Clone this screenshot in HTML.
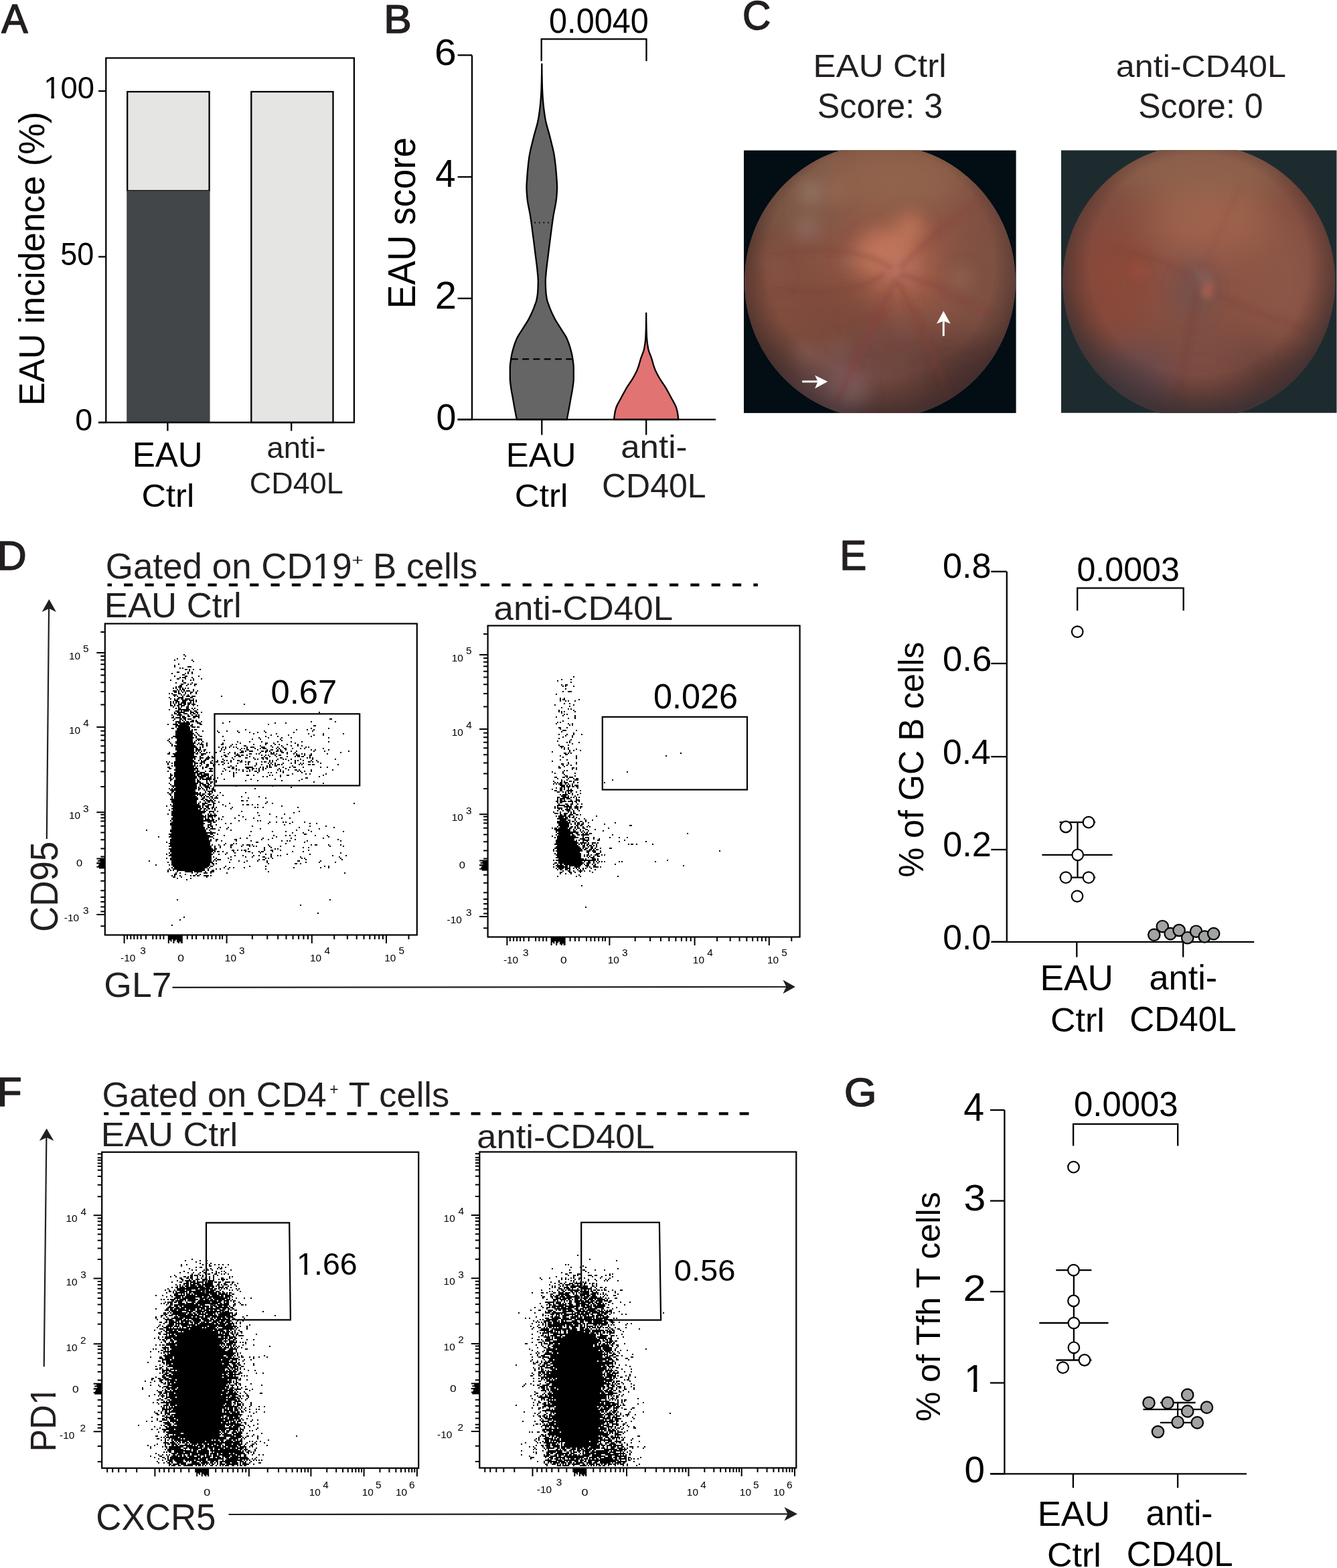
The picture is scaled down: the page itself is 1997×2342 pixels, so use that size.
<!DOCTYPE html>
<html><head><meta charset="utf-8"><style>
html,body{margin:0;padding:0;background:#fff;}
svg{display:block;}
text{font-family:'Liberation Sans', Arial, Helvetica, sans-serif;}
</style></head><body>
<svg width="1997" height="2342" viewBox="0 0 1997 2342">
<rect width="1997" height="2342" fill="#fff"/>
<text transform="translate(2.35 49.2) scale(0.9684 1)" font-size="60.95" fill="#231f20" stroke="#231f20" stroke-width="1.6" stroke-linejoin="round">A</text>
<rect x="190.2" y="137" width="122.4" height="148" fill="#e5e5e4" stroke="#000" stroke-width="2.3"/>
<rect x="189.2" y="284.9" width="124.4" height="346.1" fill="#434649" stroke="none" stroke-width="2"/>
<rect x="375.3" y="137" width="122.2" height="494" fill="#e5e5e4" stroke="#000" stroke-width="2.3"/>
<polyline points="158.3,631 158.3,86.6 528.9,86.6 528.9,631" fill="none" stroke="#000" stroke-width="2.3"/>
<line x1="147" y1="631" x2="529.9" y2="631" stroke="#000" stroke-width="2.3"/>
<line x1="147" y1="136" x2="158.3" y2="136" stroke="#000" stroke-width="2.3"/>
<line x1="147" y1="383.5" x2="158.3" y2="383.5" stroke="#000" stroke-width="2.3"/>
<line x1="147" y1="631" x2="158.3" y2="631" stroke="#000" stroke-width="2.3"/>
<line x1="250.4" y1="631" x2="250.4" y2="643.6" stroke="#000" stroke-width="2.3"/>
<line x1="435.2" y1="631" x2="435.2" y2="643.6" stroke="#000" stroke-width="2.3"/>
<g transform="translate(65.29 146.94) scale(0.9901 1)" font-size="45.8" fill="#000"><clipPath id="nf1"><path d="M-9.16 -45.8H36.64V13.74H-9.16Z M2.29 -5.04H11.19V2.75H2.29Z M15.82 -5.04H24.27V2.75H15.82Z" clip-rule="evenodd"/></clipPath><text x="0" clip-path="url(#nf1)">1</text><text x="25.47">00</text></g>
<text transform="translate(90.2 395.91) scale(0.9263 1)" font-size="48.62" fill="#000">50</text>
<text transform="translate(112.13 643.14) scale(1.0135 1)" font-size="46.08" fill="#000">0</text>
<text transform="translate(197.68 696.69) scale(1.0044 1)" font-size="50.9" fill="#000">EAU</text>
<text transform="translate(211.47 757.21) scale(1.0427 1)" font-size="48.57" fill="#000">Ctrl</text>
<text transform="translate(398.48 684.35) scale(1.0144 1)" font-size="44.63" fill="#231f20">anti-</text>
<text transform="translate(372.76 737.35)" font-size="44.95" fill="#231f20">CD40L</text>
<text transform="translate(66.02 606.02) rotate(-90) scale(0.9629 1)" font-size="54.37" fill="#000">EAU incidence (%)</text>
<text transform="translate(573.37 48.6) scale(1.0347 1)" font-size="60.07" fill="#231f20" stroke="#231f20" stroke-width="1.6" stroke-linejoin="round">B</text>
<polygon points="809.3,95.6 809.3,97.6 809.31,99.6 809.33,101.6 809.34,103.6 809.37,105.6 809.4,107.6 809.43,109.6 809.46,111.6 809.5,113.6 809.55,115.6 809.59,117.6 809.64,119.6 809.69,121.6 809.74,123.6 809.79,125.6 809.85,127.6 809.9,129.6 809.97,131.6 810.04,133.6 810.13,135.6 810.23,137.6 810.33,139.6 810.45,141.6 810.57,143.6 810.7,145.6 810.84,147.6 810.99,149.6 811.16,151.6 811.34,153.6 811.53,155.6 811.73,157.6 811.95,159.6 812.18,161.6 812.43,163.6 812.69,165.6 812.95,167.6 813.23,169.6 813.52,171.6 813.83,173.6 814.14,175.6 814.47,177.6 814.84,179.6 815.27,181.6 815.73,183.6 816.23,185.6 816.75,187.6 817.3,189.6 817.86,191.6 818.43,193.6 819,195.6 819.58,197.6 820.14,199.6 820.68,201.6 821.21,203.6 821.7,205.6 822.18,207.6 822.67,209.6 823.17,211.6 823.67,213.6 824.16,215.6 824.66,217.6 825.15,219.6 825.62,221.6 826.08,223.6 826.52,225.6 826.94,227.6 827.34,229.6 827.7,231.6 828.03,233.6 828.33,235.6 828.6,237.6 828.86,239.6 829.11,241.6 829.35,243.6 829.58,245.6 829.8,247.6 830.01,249.6 830.2,251.6 830.39,253.6 830.57,255.6 830.75,257.6 830.91,259.6 831.06,261.6 831.21,263.6 831.35,265.6 831.49,267.6 831.64,269.6 831.78,271.6 831.91,273.6 832.01,275.6 832.08,277.6 832.1,279.6 832.08,281.6 832.02,283.6 831.92,285.6 831.8,287.6 831.66,289.6 831.51,291.6 831.35,293.6 831.19,295.6 830.97,297.6 830.71,299.6 830.41,301.6 830.08,303.6 829.72,305.6 829.34,307.6 828.95,309.6 828.55,311.6 828.15,313.6 827.75,315.6 827.36,317.6 826.99,319.6 826.64,321.6 826.32,323.6 826.02,325.6 825.72,327.6 825.44,329.6 825.15,331.6 824.87,333.6 824.6,335.6 824.33,337.6 824.06,339.6 823.8,341.6 823.54,343.6 823.28,345.6 823.02,347.6 822.76,349.6 822.5,351.6 822.23,353.6 821.98,355.6 821.72,357.6 821.46,359.6 821.21,361.6 820.95,363.6 820.7,365.6 820.45,367.6 820.2,369.6 819.96,371.6 819.71,373.6 819.46,375.6 819.21,377.6 818.97,379.6 818.72,381.6 818.48,383.6 818.22,385.6 817.96,387.6 817.7,389.6 817.44,391.6 817.18,393.6 816.93,395.6 816.69,397.6 816.45,399.6 816.23,401.6 816.03,403.6 815.85,405.6 815.65,407.6 815.45,409.6 815.26,411.6 815.09,413.6 814.95,415.6 814.85,417.6 814.8,419.6 814.81,421.6 814.84,423.6 814.89,425.6 814.95,427.6 815.03,429.6 815.12,431.6 815.22,433.6 815.34,435.6 815.49,437.6 815.71,439.6 815.98,441.6 816.29,443.6 816.64,445.6 817.02,447.6 817.55,449.6 818.2,451.6 818.93,453.6 819.66,455.6 820.37,457.6 821.12,459.6 821.9,461.6 822.71,463.6 823.56,465.6 824.44,467.6 825.37,469.6 826.33,471.6 827.33,473.6 828.37,475.6 829.45,477.6 830.61,479.6 831.83,481.6 833.1,483.6 834.39,485.6 835.68,487.6 836.95,489.6 838.18,491.6 839.44,493.6 840.73,495.6 842.03,497.6 843.3,499.6 844.51,501.6 845.63,503.6 846.62,505.6 847.49,507.6 848.31,509.6 849.08,511.6 849.8,513.6 850.47,515.6 851.1,517.6 851.69,519.6 852.25,521.6 852.78,523.6 853.3,525.6 853.79,527.6 854.25,529.6 854.66,531.6 855.02,533.6 855.33,535.6 855.61,537.6 855.9,539.6 856.17,541.6 856.4,543.6 856.6,545.6 856.73,547.6 856.8,549.6 856.8,551.6 856.8,553.6 856.8,555.6 856.8,557.6 856.8,559.6 856.8,561.6 856.8,563.6 856.79,565.6 856.72,567.6 856.57,569.6 856.36,571.6 856.12,573.6 855.85,575.6 855.57,577.6 855.3,579.6 855.02,581.6 854.69,583.6 854.34,585.6 853.96,587.6 853.58,589.6 853.2,591.6 852.83,593.6 852.47,595.6 852.12,597.6 851.77,599.6 851.42,601.6 851.07,603.6 850.72,605.6 850.36,607.6 849.99,609.6 849.62,611.6 849.24,613.6 848.87,615.6 848.48,617.6 848.1,619.6 847.71,621.6 847.32,623.6 846.92,625.6 846.7,626.7 771.9,626.7 771.68,625.6 771.28,623.6 770.89,621.6 770.5,619.6 770.12,617.6 769.73,615.6 769.36,613.6 768.98,611.6 768.61,609.6 768.24,607.6 767.88,605.6 767.53,603.6 767.18,601.6 766.83,599.6 766.48,597.6 766.13,595.6 765.77,593.6 765.4,591.6 765.02,589.6 764.64,587.6 764.26,585.6 763.91,583.6 763.58,581.6 763.3,579.6 763.03,577.6 762.75,575.6 762.48,573.6 762.24,571.6 762.03,569.6 761.88,567.6 761.81,565.6 761.8,563.6 761.8,561.6 761.8,559.6 761.8,557.6 761.8,555.6 761.8,553.6 761.8,551.6 761.8,549.6 761.87,547.6 762,545.6 762.2,543.6 762.43,541.6 762.7,539.6 762.99,537.6 763.27,535.6 763.58,533.6 763.94,531.6 764.35,529.6 764.81,527.6 765.3,525.6 765.82,523.6 766.35,521.6 766.91,519.6 767.5,517.6 768.13,515.6 768.8,513.6 769.52,511.6 770.29,509.6 771.11,507.6 771.98,505.6 772.97,503.6 774.09,501.6 775.3,499.6 776.57,497.6 777.87,495.6 779.16,493.6 780.42,491.6 781.65,489.6 782.92,487.6 784.21,485.6 785.5,483.6 786.77,481.6 787.99,479.6 789.15,477.6 790.23,475.6 791.27,473.6 792.27,471.6 793.23,469.6 794.16,467.6 795.04,465.6 795.89,463.6 796.7,461.6 797.48,459.6 798.23,457.6 798.94,455.6 799.67,453.6 800.4,451.6 801.05,449.6 801.58,447.6 801.96,445.6 802.31,443.6 802.62,441.6 802.89,439.6 803.11,437.6 803.26,435.6 803.38,433.6 803.48,431.6 803.57,429.6 803.65,427.6 803.71,425.6 803.76,423.6 803.79,421.6 803.8,419.6 803.75,417.6 803.65,415.6 803.51,413.6 803.34,411.6 803.15,409.6 802.95,407.6 802.75,405.6 802.57,403.6 802.37,401.6 802.15,399.6 801.91,397.6 801.67,395.6 801.42,393.6 801.16,391.6 800.9,389.6 800.64,387.6 800.38,385.6 800.12,383.6 799.88,381.6 799.63,379.6 799.39,377.6 799.14,375.6 798.89,373.6 798.64,371.6 798.4,369.6 798.15,367.6 797.9,365.6 797.65,363.6 797.39,361.6 797.14,359.6 796.88,357.6 796.62,355.6 796.37,353.6 796.1,351.6 795.84,349.6 795.58,347.6 795.32,345.6 795.06,343.6 794.8,341.6 794.54,339.6 794.27,337.6 794,335.6 793.73,333.6 793.45,331.6 793.16,329.6 792.88,327.6 792.58,325.6 792.28,323.6 791.96,321.6 791.61,319.6 791.24,317.6 790.85,315.6 790.45,313.6 790.05,311.6 789.65,309.6 789.26,307.6 788.88,305.6 788.52,303.6 788.19,301.6 787.89,299.6 787.63,297.6 787.41,295.6 787.25,293.6 787.09,291.6 786.94,289.6 786.8,287.6 786.68,285.6 786.58,283.6 786.52,281.6 786.5,279.6 786.52,277.6 786.59,275.6 786.69,273.6 786.82,271.6 786.96,269.6 787.11,267.6 787.25,265.6 787.39,263.6 787.54,261.6 787.69,259.6 787.85,257.6 788.03,255.6 788.21,253.6 788.4,251.6 788.59,249.6 788.8,247.6 789.02,245.6 789.25,243.6 789.49,241.6 789.74,239.6 790,237.6 790.27,235.6 790.57,233.6 790.9,231.6 791.26,229.6 791.66,227.6 792.08,225.6 792.52,223.6 792.98,221.6 793.45,219.6 793.94,217.6 794.44,215.6 794.93,213.6 795.43,211.6 795.93,209.6 796.42,207.6 796.9,205.6 797.39,203.6 797.92,201.6 798.46,199.6 799.02,197.6 799.6,195.6 800.17,193.6 800.74,191.6 801.3,189.6 801.85,187.6 802.37,185.6 802.87,183.6 803.33,181.6 803.76,179.6 804.13,177.6 804.46,175.6 804.77,173.6 805.08,171.6 805.37,169.6 805.65,167.6 805.91,165.6 806.17,163.6 806.42,161.6 806.65,159.6 806.87,157.6 807.07,155.6 807.26,153.6 807.44,151.6 807.61,149.6 807.76,147.6 807.9,145.6 808.03,143.6 808.15,141.6 808.27,139.6 808.37,137.6 808.47,135.6 808.56,133.6 808.63,131.6 808.7,129.6 808.75,127.6 808.81,125.6 808.86,123.6 808.91,121.6 808.96,119.6 809.01,117.6 809.05,115.6 809.1,113.6 809.14,111.6 809.17,109.6 809.2,107.6 809.23,105.6 809.26,103.6 809.27,101.6 809.29,99.6 809.3,97.6 809.3,95.6" fill="#666565" stroke="#000" stroke-width="2.3" stroke-linejoin="round"/>
<polygon points="965.2,467.7 965.2,469.7 965.21,471.7 965.23,473.7 965.25,475.7 965.27,477.7 965.3,479.7 965.34,481.7 965.38,483.7 965.43,485.7 965.48,487.7 965.53,489.7 965.59,491.7 965.65,493.7 965.72,495.7 965.79,497.7 965.87,499.7 965.95,501.7 966.03,503.7 966.15,505.7 966.32,507.7 966.52,509.7 966.76,511.7 967.04,513.7 967.34,515.7 967.67,517.7 968.02,519.7 968.41,521.7 968.93,523.7 969.58,525.7 970.31,527.7 971.09,529.7 971.87,531.7 972.62,533.7 973.3,535.7 973.91,537.7 974.49,539.7 975.05,541.7 975.62,543.7 976.21,545.7 976.85,547.7 977.55,549.7 978.34,551.7 979.21,553.7 980.16,555.7 981.16,557.7 982.22,559.7 983.31,561.7 984.42,563.7 985.56,565.7 986.78,567.7 988.08,569.7 989.42,571.7 990.78,573.7 992.13,575.7 993.43,577.7 994.66,579.7 995.83,581.7 996.97,583.7 998.09,585.7 999.18,587.7 1000.26,589.7 1001.33,591.7 1002.38,593.7 1003.45,595.7 1004.57,597.7 1005.7,599.7 1006.82,601.7 1007.87,603.7 1008.83,605.7 1009.65,607.7 1010.32,609.7 1010.89,611.7 1011.4,613.7 1011.83,615.7 1012.18,617.7 1012.48,619.7 1012.75,621.7 1012.97,623.7 1013.14,625.7 1013.2,626.7 917.2,626.7 917.26,625.7 917.43,623.7 917.65,621.7 917.92,619.7 918.22,617.7 918.57,615.7 919,613.7 919.51,611.7 920.08,609.7 920.75,607.7 921.57,605.7 922.53,603.7 923.58,601.7 924.7,599.7 925.83,597.7 926.95,595.7 928.02,593.7 929.07,591.7 930.14,589.7 931.22,587.7 932.31,585.7 933.43,583.7 934.57,581.7 935.74,579.7 936.97,577.7 938.27,575.7 939.62,573.7 940.98,571.7 942.32,569.7 943.62,567.7 944.84,565.7 945.98,563.7 947.09,561.7 948.18,559.7 949.24,557.7 950.24,555.7 951.19,553.7 952.06,551.7 952.85,549.7 953.55,547.7 954.19,545.7 954.78,543.7 955.35,541.7 955.91,539.7 956.49,537.7 957.1,535.7 957.78,533.7 958.53,531.7 959.31,529.7 960.09,527.7 960.82,525.7 961.47,523.7 961.99,521.7 962.38,519.7 962.73,517.7 963.06,515.7 963.36,513.7 963.64,511.7 963.88,509.7 964.08,507.7 964.25,505.7 964.37,503.7 964.45,501.7 964.53,499.7 964.61,497.7 964.68,495.7 964.75,493.7 964.81,491.7 964.87,489.7 964.92,487.7 964.97,485.7 965.02,483.7 965.06,481.7 965.1,479.7 965.13,477.7 965.15,475.7 965.17,473.7 965.19,471.7 965.2,469.7 965.2,467.7" fill="#e27373" stroke="#000" stroke-width="2.3" stroke-linejoin="round"/>
<line x1="798.3" y1="332.5" x2="820" y2="332.5" stroke="#000" stroke-width="2.2" stroke-dasharray="1.7 4.9"/>
<line x1="763.8" y1="536.3" x2="854" y2="536.3" stroke="#000" stroke-width="2.3" stroke-dasharray="10 6.3"/>
<line x1="705" y1="82.4" x2="705" y2="627.7" stroke="#000" stroke-width="2.3"/>
<line x1="683.6" y1="626.7" x2="1069.1" y2="626.7" stroke="#000" stroke-width="2.3"/>
<line x1="683.6" y1="82.4" x2="705" y2="82.4" stroke="#000" stroke-width="2.3"/>
<line x1="683.6" y1="264.3" x2="705" y2="264.3" stroke="#000" stroke-width="2.3"/>
<line x1="683.6" y1="445.7" x2="705" y2="445.7" stroke="#000" stroke-width="2.3"/>
<line x1="683.6" y1="626.7" x2="705" y2="626.7" stroke="#000" stroke-width="2.3"/>
<line x1="809.3" y1="626.7" x2="809.3" y2="649.6" stroke="#000" stroke-width="2.3"/>
<line x1="965.2" y1="626.7" x2="965.2" y2="649.6" stroke="#000" stroke-width="2.3"/>
<polyline points="808.7,91.2 808.7,58.3 965.5,58.3 965.5,91.2" fill="none" stroke="#000" stroke-width="2.3"/>
<text transform="translate(820.05 48.89) scale(0.9510 1)" font-size="51.17" fill="#000">0.0040</text>
<text transform="translate(649.06 96.55) scale(1.0724 1)" font-size="54.84" fill="#000">6</text>
<text transform="translate(650.27 279.2) scale(0.9407 1)" font-size="57.89" fill="#000">4</text>
<text transform="translate(649.81 460.9) scale(1.0105 1)" font-size="57.2" fill="#000">2</text>
<text transform="translate(651.46 641.75) scale(0.9676 1)" font-size="55.41" fill="#000">0</text>
<text transform="translate(755.8 696.79) scale(1.0059 1)" font-size="50.61" fill="#000">EAU</text>
<text transform="translate(768.74 757.12) scale(1.0661 1)" font-size="48.03" fill="#000">Ctrl</text>
<text transform="translate(927.13 684.12) scale(1.0556 1)" font-size="48.44" fill="#231f20">anti-</text>
<text transform="translate(898.9 743.31) scale(1.0172 1)" font-size="49.19" fill="#231f20">CD40L</text>
<text transform="translate(619.54 461.22) rotate(-90) scale(0.9486 1)" font-size="56.49" fill="#000">EAU score</text>
<text transform="translate(1254.24 850.6) scale(0.9653 1)" font-size="62.25" fill="#231f20" stroke="#231f20" stroke-width="1.6" stroke-linejoin="round">E</text>
<line x1="1503.8" y1="853.7" x2="1503.8" y2="1407.8" stroke="#000" stroke-width="2.3"/>
<line x1="1481.7" y1="1406.8" x2="1873.2" y2="1406.8" stroke="#000" stroke-width="2.3"/>
<line x1="1480.3" y1="853.7" x2="1503.8" y2="853.7" stroke="#000" stroke-width="2.3"/>
<line x1="1480.3" y1="991" x2="1503.8" y2="991" stroke="#000" stroke-width="2.3"/>
<line x1="1480.3" y1="1130.2" x2="1503.8" y2="1130.2" stroke="#000" stroke-width="2.3"/>
<line x1="1480.3" y1="1269" x2="1503.8" y2="1269" stroke="#000" stroke-width="2.3"/>
<line x1="1480.3" y1="1406.8" x2="1503.8" y2="1406.8" stroke="#000" stroke-width="2.3"/>
<line x1="1608.3" y1="1406.8" x2="1608.3" y2="1429.6" stroke="#000" stroke-width="2.3"/>
<line x1="1767.2" y1="1406.8" x2="1767.2" y2="1429.6" stroke="#000" stroke-width="2.3"/>
<text transform="translate(1407.91 863.49) scale(1.0281 1)" font-size="50.88" fill="#000">0.8</text>
<text transform="translate(1407.99 1001.87) scale(1.0037 1)" font-size="52.58" fill="#000">0.6</text>
<text transform="translate(1407.93 1141.37) scale(0.9837 1)" font-size="52.58" fill="#000">0.4</text>
<text transform="translate(1408.31 1278.98) scale(1.0069 1)" font-size="51.87" fill="#000">0.2</text>
<text transform="translate(1408.33 1417.88) scale(0.9892 1)" font-size="52.3" fill="#000">0.0</text>
<polyline points="1609.2,912.1 1609.2,878.4 1767.7,878.4 1767.7,912.1" fill="none" stroke="#000" stroke-width="2.3"/>
<text transform="translate(1608.39 868.4) scale(1.0065 1)" font-size="49.89" fill="#000">0.0003</text>
<line x1="1609.5" y1="1228.2" x2="1609.5" y2="1310.7" stroke="#000" stroke-width="2.3"/>
<line x1="1582.5" y1="1228.2" x2="1636.2" y2="1228.2" stroke="#000" stroke-width="2.3"/>
<line x1="1582.5" y1="1310.7" x2="1636.2" y2="1310.7" stroke="#000" stroke-width="2.3"/>
<line x1="1556.4" y1="1276.8" x2="1661.6" y2="1276.8" stroke="#000" stroke-width="2.3"/>
<circle cx="1609.2" cy="943.6" r="8.3" fill="#fff" stroke="#000" stroke-width="2.2"/>
<circle cx="1609.7" cy="1276.8" r="8.3" fill="#fff" stroke="#000" stroke-width="2.2"/>
<circle cx="1592" cy="1235" r="8.3" fill="#fff" stroke="#000" stroke-width="2.2"/>
<circle cx="1626" cy="1228.2" r="8.3" fill="#fff" stroke="#000" stroke-width="2.2"/>
<circle cx="1592" cy="1310.7" r="8.3" fill="#fff" stroke="#000" stroke-width="2.2"/>
<circle cx="1626" cy="1310.7" r="8.3" fill="#fff" stroke="#000" stroke-width="2.2"/>
<circle cx="1609" cy="1338.6" r="8.3" fill="#fff" stroke="#000" stroke-width="2.2"/>
<line x1="1740" y1="1394" x2="1790" y2="1394" stroke="#000" stroke-width="2.3"/>
<circle cx="1723.8" cy="1396.3" r="8.7" fill="#a0a2a4" stroke="#000" stroke-width="2.2"/>
<circle cx="1736.3" cy="1383.7" r="8.7" fill="#a0a2a4" stroke="#000" stroke-width="2.2"/>
<circle cx="1748.2" cy="1394.6" r="8.7" fill="#a0a2a4" stroke="#000" stroke-width="2.2"/>
<circle cx="1761.1" cy="1389.5" r="8.7" fill="#a0a2a4" stroke="#000" stroke-width="2.2"/>
<circle cx="1773.7" cy="1400.7" r="8.7" fill="#a0a2a4" stroke="#000" stroke-width="2.2"/>
<circle cx="1786.6" cy="1391.2" r="8.7" fill="#a0a2a4" stroke="#000" stroke-width="2.2"/>
<circle cx="1799.2" cy="1399" r="8.7" fill="#a0a2a4" stroke="#000" stroke-width="2.2"/>
<circle cx="1812.7" cy="1394.6" r="8.7" fill="#a0a2a4" stroke="#000" stroke-width="2.2"/>
<text transform="translate(1553.61 1478.96) scale(0.9770 1)" font-size="54.48" fill="#000">EAU</text>
<text transform="translate(1569 1541.1) scale(1.0436 1)" font-size="49.8" fill="#000">Ctrl</text>
<text transform="translate(1716.48 1478.49) scale(1.0226 1)" font-size="51.16" fill="#000">anti-</text>
<text transform="translate(1687.24 1540.48) scale(0.9874 1)" font-size="51.87" fill="#000">CD40L</text>
<text transform="translate(1378.59 1310.56) rotate(-90) scale(0.9882 1)" font-size="50.88" fill="#000">% of GC B cells</text>
<text transform="translate(1260.89 1652.11) scale(1.0633 1)" font-size="58.52" fill="#231f20" stroke="#231f20" stroke-width="1.6" stroke-linejoin="round">G</text>
<line x1="1500.4" y1="1658" x2="1500.4" y2="2202.3" stroke="#000" stroke-width="2.3"/>
<line x1="1479.3" y1="2201.3" x2="1862" y2="2201.3" stroke="#000" stroke-width="2.3"/>
<line x1="1479" y1="1658" x2="1500.4" y2="1658" stroke="#000" stroke-width="2.3"/>
<line x1="1479" y1="1793.6" x2="1500.4" y2="1793.6" stroke="#000" stroke-width="2.3"/>
<line x1="1479" y1="1929.2" x2="1500.4" y2="1929.2" stroke="#000" stroke-width="2.3"/>
<line x1="1479" y1="2065.5" x2="1500.4" y2="2065.5" stroke="#000" stroke-width="2.3"/>
<line x1="1479" y1="2201.3" x2="1500.4" y2="2201.3" stroke="#000" stroke-width="2.3"/>
<line x1="1602.9" y1="2201.3" x2="1602.9" y2="2222.3" stroke="#000" stroke-width="2.3"/>
<line x1="1759.1" y1="2201.3" x2="1759.1" y2="2222.3" stroke="#000" stroke-width="2.3"/>
<text transform="translate(1439.35 1674) scale(0.9297 1)" font-size="59.64" fill="#000">4</text>
<text transform="translate(1439.49 1807.95) scale(1.0639 1)" font-size="55.41" fill="#000">3</text>
<text transform="translate(1438.62 1943) scale(1.0950 1)" font-size="56.2" fill="#000">2</text>
<g transform="translate(1439.91 2079)" font-size="56.73" fill="#000"><clipPath id="nf2"><path d="M-11.35 -56.73H45.38V17.02H-11.35Z M2.84 -6.24H13.94V3.4H2.84Z M19.53 -6.24H30.07V3.4H19.53Z" clip-rule="evenodd"/></clipPath><text x="0" clip-path="url(#nf2)">1</text></g>
<text transform="translate(1440.41 2214.35) scale(0.9928 1)" font-size="55.27" fill="#000">0</text>
<polyline points="1603.1,1711.4 1603.1,1678.9 1759.2,1678.9 1759.2,1711.4" fill="none" stroke="#000" stroke-width="2.3"/>
<text transform="translate(1603.96 1667.18) scale(0.9811 1)" font-size="51.87" fill="#000">0.0003</text>
<line x1="1603.9" y1="1897.1" x2="1603.9" y2="2031.5" stroke="#000" stroke-width="2.3"/>
<line x1="1577.3" y1="1897.1" x2="1630.4" y2="1897.1" stroke="#000" stroke-width="2.3"/>
<line x1="1577.3" y1="2031.5" x2="1630.4" y2="2031.5" stroke="#000" stroke-width="2.3"/>
<line x1="1552.3" y1="1976" x2="1655.5" y2="1976" stroke="#000" stroke-width="2.3"/>
<circle cx="1603.5" cy="1743.2" r="8.3" fill="#fff" stroke="#000" stroke-width="2.2"/>
<circle cx="1603.5" cy="1897.1" r="8.3" fill="#fff" stroke="#000" stroke-width="2.2"/>
<circle cx="1603.5" cy="1943" r="8.3" fill="#fff" stroke="#000" stroke-width="2.2"/>
<circle cx="1603.9" cy="1976.1" r="8.3" fill="#fff" stroke="#000" stroke-width="2.2"/>
<circle cx="1603.9" cy="2012.8" r="8.3" fill="#fff" stroke="#000" stroke-width="2.2"/>
<circle cx="1619.9" cy="2031.5" r="8.3" fill="#fff" stroke="#000" stroke-width="2.2"/>
<circle cx="1587.6" cy="2042.7" r="8.3" fill="#fff" stroke="#000" stroke-width="2.2"/>
<line x1="1759.1" y1="2095" x2="1759.1" y2="2125" stroke="#000" stroke-width="2.3"/>
<line x1="1733" y1="2095" x2="1785.6" y2="2095" stroke="#000" stroke-width="2.3"/>
<line x1="1733" y1="2124.9" x2="1785.6" y2="2124.9" stroke="#000" stroke-width="2.3"/>
<line x1="1707.5" y1="2105.2" x2="1811" y2="2105.2" stroke="#000" stroke-width="2.3"/>
<circle cx="1716" cy="2095.3" r="8.7" fill="#a0a2a4" stroke="#000" stroke-width="2.2"/>
<circle cx="1744.1" cy="2095.3" r="8.7" fill="#a0a2a4" stroke="#000" stroke-width="2.2"/>
<circle cx="1773.7" cy="2083.4" r="8.7" fill="#a0a2a4" stroke="#000" stroke-width="2.2"/>
<circle cx="1773.7" cy="2107.9" r="8.7" fill="#a0a2a4" stroke="#000" stroke-width="2.2"/>
<circle cx="1802.5" cy="2102.1" r="8.7" fill="#a0a2a4" stroke="#000" stroke-width="2.2"/>
<circle cx="1759.1" cy="2124.2" r="8.7" fill="#a0a2a4" stroke="#000" stroke-width="2.2"/>
<circle cx="1788.3" cy="2124.9" r="8.7" fill="#a0a2a4" stroke="#000" stroke-width="2.2"/>
<circle cx="1729.5" cy="2138.5" r="8.7" fill="#a0a2a4" stroke="#000" stroke-width="2.2"/>
<text transform="translate(1549.64 2278.87) scale(1.0036 1)" font-size="52.62" fill="#000">EAU</text>
<text transform="translate(1564 2340.01) scale(1.0522 1)" font-size="49.39" fill="#000">Ctrl</text>
<text transform="translate(1711.41 2278.09) scale(1.0058 1)" font-size="51.16" fill="#000">anti-</text>
<text transform="translate(1682.85 2339.18) scale(0.9830 1)" font-size="51.87" fill="#000">CD40L</text>
<text transform="translate(1403.79 2123.36) rotate(-90) scale(0.9891 1)" font-size="50.75" fill="#000">% of Tfh T cells</text>
<text transform="translate(1109.07 43.89) scale(0.9661 1)" font-size="60.64" fill="#231f20" stroke="#231f20" stroke-width="1.6" stroke-linejoin="round">C</text>
<text transform="translate(1214.58 115.13) scale(1.0840 1)" font-size="47.21" fill="#231f20">EAU Ctrl</text>
<text transform="translate(1220.73 175.68) scale(0.9732 1)" font-size="51.73" fill="#231f20">Score: 3</text>
<text transform="translate(1666.86 115.13) scale(1.0676 1)" font-size="47.07" fill="#231f20">anti-CD40L</text>
<text transform="translate(1700.25 175.68) scale(0.9676 1)" font-size="51.73" fill="#231f20">Score: 0</text>
<defs><clipPath id="c1"><ellipse cx="1314.4" cy="420.5" rx="202.4" ry="205"/></clipPath><clipPath id="r1"><rect x="1111" y="224.6" width="406.5999999999999" height="392.29999999999995"/></clipPath><radialGradient id="g1" cx="1335" cy="395" r="235" gradientUnits="userSpaceOnUse"><stop offset="0" stop-color="#b86c52"/><stop offset="0.35" stop-color="#8e5544"/><stop offset="0.75" stop-color="#7a4d40"/><stop offset="1" stop-color="#604035"/></radialGradient><radialGradient id="v1" cx="1314.4" cy="392.5" r="225" gradientUnits="userSpaceOnUse"><stop offset="0.76" stop-color="#2a1a18" stop-opacity="0"/><stop offset="1" stop-color="#2a2026" stop-opacity="0.5"/></radialGradient><filter id="b12" x="-50%" y="-50%" width="200%" height="200%"><feGaussianBlur stdDeviation="12"/></filter><filter id="b6" x="-50%" y="-50%" width="200%" height="200%"><feGaussianBlur stdDeviation="6"/></filter><filter id="b3" x="-50%" y="-50%" width="200%" height="200%"><feGaussianBlur stdDeviation="3.5"/></filter><filter id="b25" x="-50%" y="-50%" width="200%" height="200%"><feGaussianBlur stdDeviation="25"/></filter></defs>
<rect x="1111" y="224.6" width="406.6" height="392.3" fill="#020d14" stroke="none" stroke-width="2"/>
<g clip-path="url(#r1)"><g clip-path="url(#c1)">
<rect x="1111" y="214.6" width="406.6" height="412.3" fill="url(#g1)" stroke="none" stroke-width="2"/>
<g filter="url(#b25)">
<ellipse cx="1330" cy="265" rx="120" ry="55" fill="#94684f" opacity="0.8"/>
<ellipse cx="1200" cy="300" rx="70" ry="60" fill="#82604c" opacity="0.6"/>
<ellipse cx="1160" cy="440" rx="60" ry="70" fill="#84503e" opacity="0.7"/>
<ellipse cx="1250" cy="470" rx="70" ry="40" fill="#7a4639" opacity="0.7"/>
<ellipse cx="1330" cy="540" rx="90" ry="55" fill="#6a463f" opacity="0.8"/>
<ellipse cx="1440" cy="560" rx="70" ry="60" fill="#563832" opacity="0.8"/>
<ellipse cx="1235" cy="580" rx="60" ry="40" fill="#7e5c60" opacity="0.8"/>
<ellipse cx="1470" cy="420" rx="45" ry="80" fill="#7a5242" opacity="0.6"/>
</g>
<g filter="url(#b12)">
<ellipse cx="1322" cy="378" rx="42" ry="34" fill="#c67a60" opacity="0.7"/>
<ellipse cx="1360" cy="340" rx="20" ry="22" fill="#c77a5c" opacity="0.7"/>
<ellipse cx="1345" cy="405" rx="22" ry="20" fill="#b07060" opacity="0.8"/>
<ellipse cx="1265" cy="590" rx="30" ry="22" fill="#96706e" opacity="0.8"/>
<ellipse cx="1210" cy="287" rx="16" ry="18" fill="#a08a80" opacity="0.55"/>
<ellipse cx="1205" cy="340" rx="14" ry="14" fill="#a08a88" opacity="0.5"/>
<ellipse cx="1250" cy="285" rx="12" ry="14" fill="#a0705a" opacity="0.6"/>
<ellipse cx="1435" cy="415" rx="12" ry="12" fill="#a07a66" opacity="0.6"/>
<ellipse cx="1270" cy="388" rx="10" ry="9" fill="#a8806e" opacity="0.6"/>
<ellipse cx="1200" cy="530" rx="9" ry="9" fill="#a08070" opacity="0.6"/>
<ellipse cx="1150" cy="385" rx="12" ry="10" fill="#9a6a58" opacity="0.5"/>
<ellipse cx="1163" cy="415" rx="8" ry="8" fill="#9a6e5c" opacity="0.5"/>
<ellipse cx="1255" cy="518" rx="10" ry="10" fill="#8e6a62" opacity="0.5"/>
<ellipse cx="1300" cy="500" rx="10" ry="10" fill="#86625c" opacity="0.45"/>
<ellipse cx="1350" cy="485" rx="10" ry="10" fill="#86625c" opacity="0.45"/>
<ellipse cx="1225" cy="230" rx="30" ry="12" fill="#8e6a56" opacity="0.5"/>
</g>
<g filter="url(#b3)" fill="none" stroke-linecap="round">
<path d="M1338 420 C1310 470 1290 520 1250 600" stroke="#8a3c3c" stroke-width="10.2" opacity="0.33"/>
<path d="M1345 425 C1360 470 1395 520 1420 600" stroke="#803a38" stroke-width="8.5" opacity="0.33"/>
<path d="M1345 410 C1390 420 1420 440 1480 470" stroke="#8a3c3c" stroke-width="8.5" opacity="0.33"/>
<path d="M1345 400 C1380 360 1420 330 1460 300" stroke="#8a4040" stroke-width="6.8" opacity="0.33"/>
<path d="M1330 400 C1290 370 1220 370 1150 380" stroke="#7e3e38" stroke-width="6.8" opacity="0.33"/>
<path d="M1320 410 C1270 440 1220 440 1160 430" stroke="#7a3a34" stroke-width="6.8" opacity="0.33"/>
</g>
<circle cx="1340" cy="405" r="5" fill="#c0705a" filter="url(#b3)"/>
<ellipse cx="1314.4" cy="420.5" rx="202.4" ry="205" fill="url(#v1)"/>
</g></g>
<line x1="1198.2" y1="569.9" x2="1222" y2="569.9" stroke="#fff" stroke-width="3"/>
<polygon points="1236.3,569.9 1217.2,560.4 1221.5,569.9 1217.2,580.2" fill="#fff"/>
<line x1="1409.3" y1="501.9" x2="1409.3" y2="478" stroke="#fff" stroke-width="3"/>
<polygon points="1409.3,464.5 1398.9,483.6 1409.3,479.5 1419.7,483.6" fill="#fff"/>
<defs><clipPath id="c2"><ellipse cx="1790.8" cy="420.6" rx="203.4" ry="205"/></clipPath><clipPath id="r2"><rect x="1585" y="224.5" width="411.5" height="392.20000000000005"/></clipPath><radialGradient id="g2" cx="1795" cy="380" r="240" gradientUnits="userSpaceOnUse"><stop offset="0" stop-color="#94594a"/><stop offset="0.4" stop-color="#8a5242"/><stop offset="0.8" stop-color="#7a4a3f"/><stop offset="1" stop-color="#5e4240"/></radialGradient><radialGradient id="v2" cx="1790.8" cy="395.6" r="222" gradientUnits="userSpaceOnUse"><stop offset="0.74" stop-color="#2a1a18" stop-opacity="0"/><stop offset="1" stop-color="#26262c" stop-opacity="0.55"/></radialGradient></defs>
<rect x="1585" y="224.5" width="411.5" height="392.2" fill="#1e2b2e" stroke="none" stroke-width="2"/>
<g clip-path="url(#r2)"><g clip-path="url(#c2)">
<rect x="1585" y="214.5" width="411.5" height="412.2" fill="url(#g2)" stroke="none" stroke-width="2"/>
<g filter="url(#b25)">
<ellipse cx="1790" cy="250" rx="140" ry="45" fill="#8e6650" opacity="0.8"/>
<ellipse cx="1810" cy="330" rx="90" ry="45" fill="#a2664e" opacity="0.8"/>
<ellipse cx="1665" cy="420" rx="60" ry="80" fill="#8c4838" opacity="0.8"/>
<ellipse cx="1920" cy="420" rx="55" ry="90" fill="#8e5a48" opacity="0.7"/>
<ellipse cx="1785" cy="430" rx="40" ry="50" fill="#74504a" opacity="0.8"/>
<ellipse cx="1790" cy="540" rx="110" ry="50" fill="#7a4c45" opacity="0.7"/>
<ellipse cx="1690" cy="570" rx="60" ry="45" fill="#5e4a52" opacity="0.8"/>
<ellipse cx="1900" cy="565" rx="60" ry="45" fill="#64403a" opacity="0.8"/>
</g>
<g filter="url(#b6)">
<ellipse cx="1803" cy="433" rx="9" ry="12" fill="#c8705a" opacity="0.9"/>
<ellipse cx="1795" cy="415" rx="14" ry="12" fill="#8a6a66" opacity="0.6"/>
<ellipse cx="1700" cy="405" rx="12" ry="12" fill="#a04c3c" opacity="0.6"/>
</g>
<ellipse cx="1785" cy="435" rx="28" ry="42" fill="#6e5250" opacity="0.3" filter="url(#b12)"/>
<g filter="url(#b3)" fill="none" stroke-linecap="round">
<path d="M1795 425 C1830 450 1880 470 1950 490" stroke="#7a3c38" stroke-width="6.0" opacity="0.3"/>
<path d="M1790 420 C1760 400 1720 380 1660 370" stroke="#7a4038" stroke-width="6.0" opacity="0.3"/>
<path d="M1790 430 C1780 480 1770 530 1760 600" stroke="#6e3c38" stroke-width="6.0" opacity="0.3"/>
<path d="M1795 410 C1810 370 1830 330 1850 280" stroke="#8a4a40" stroke-width="4.5" opacity="0.3"/>
</g>
<ellipse cx="1790.8" cy="420.6" rx="203.4" ry="205" fill="url(#v2)"/>
</g></g>
<text transform="translate(-4.21 850.6) scale(0.9946 1)" font-size="61.09" fill="#231f20" stroke="#231f20" stroke-width="1.6" stroke-linejoin="round">D</text>
<g transform="translate(157.85 863.76) scale(0.9824 1)" font-size="53.88" fill="#231f20"><text x="0">Gated on CD</text><clipPath id="nf3"><path d="M303.68 -53.88H357.55V16.16H303.68Z M317.15 -5.93H327.68V3.23H317.15Z M333.02 -5.93H343.01V3.23H333.02Z" clip-rule="evenodd"/></clipPath><text x="314.45" clip-path="url(#nf3)">1</text><text x="344.42">9</text></g>
<text transform="translate(525.49 844.18) scale(1.3130 1)" font-size="22.65" fill="#231f20">+</text>
<text transform="translate(557.03 863.77) scale(1.0043 1)" font-size="52.79" fill="#231f20">B cells</text>
<line x1="160.5" y1="873.6" x2="1131.9" y2="873.6" stroke="#000" stroke-width="4.4" stroke-dasharray="13.2 18.14" stroke-dashoffset="6.7"/>
<text transform="translate(155.86 922.29) scale(1.0237 1)" font-size="51.43" fill="#231f20">EAU Ctrl</text>
<text transform="translate(737.45 925.89) scale(1.0457 1)" font-size="50.61" fill="#231f20">anti-CD40L</text>
<path d="M274 978h2m0 2h2m-14 4h2m8 0h2m-16 2h2m24 0h2m0 2h2m-24 4h2m-8 2h2m-2 2h2m18 0h6m-18 2h2m2 0h2m2 2h4m2 0h2m4 0h2m8 0h2m-18 2h2m-20 2h4m12 0h2m4 0h2m-32 2h2m18 0h2m2 0h2m4 0h2m-16 2h4m-16 2h2m14 0h4m16 0h2m-30 2h2m2 0h6m8 0h2m-24 2h4m8 0h2m10 0h2m10 0h2m-48 2h2m16 0h2m10 0h2m2 0h2m-18 2h2m-12 2h2m10 0h4m8 0h2m-18 2h4m6 0h2m2 0h2m4 0h4m-26 2h4m6 0h2m10 0h2m-30 2h2m2 0h6m-14 2h2m2 0h2m4 0h2m2 0h2m2 0h2m2 0h2m-18 2h2m2 0h2m2 0h4m12 0h2m-32 2h6m2 0h2m2 0h2m2 0h2m2 0h6m4 0h2m4 0h2m-36 2h4m2 0h2m4 0h2m2 0h2m6 0h4m4 0h2m-42 2h2m2 0h2m8 0h4m6 0h2m6 0h2m6 0h2m-36 2h6m6 0h2m2 0h2m4 0h2m-22 2h2m2 0h2m6 0h2m4 0h6m2 0h6m38 0h2m-80 2h2m12 0h8m10 0h4m-34 2h2m4 0h2m2 0h4m2 0h4m2 0h8m4 0h2m-30 2h6m6 0h8m2 0h8m2 0h2m-40 2h2m2 0h2m2 0h6m4 0h6m6 0h2m2 0h2m2 0h2m-40 2h2m2 0h2m2 0h2m2 0h2m2 0h8m2 0h6m2 0h2m-36 2h2m4 0h2m4 0h6m2 0h4m2 0h4m2 0h6m72 0h2m-112 2h4m2 0h2m2 0h4m2 0h6m4 0h2m6 0h2m4 0h2m-38 2h2m6 0h2m2 0h2m6 0h4m-20 2h2m2 0h4m8 0h4m4 0h2m2 0h2m-40 2h2m12 0h18m4 0h2m4 0h2m-34 2h6m2 0h2m2 0h8m2 0h2m4 0h4m-34 2h2m2 0h12m8 0h6m2 0h4m4 0h2m174 0h2m-218 2h4m2 0h4m4 0h6m4 0h2m2 0h4m2 0h2m-40 2h2m6 0h8m8 0h2m4 0h2m4 0h2m2 0h2m-40 2h2m8 0h2m2 0h4m4 0h4m4 0h10m-42 2h4m2 0h8m2 0h6m10 0h4m4 0h2m-38 2h2m6 0h4m2 0h4m2 0h6m206 0h4m-238 2h2m8 0h2m2 0h2m2 0h2m8 0h4m2 0h2m-32 2h8m4 0h2m2 0h4m2 0h6m2 0h4m4 0h2m40 0h2m120 0h2m34 0h2m-240 2h2m2 0h18m10 0h6m32 0h2m76 0h2m14 0h2m-178 2h2m6 0h8m2 0h16m2 0h2m10 0h4m98 0h2m-140 2h20m2 0h4m180 0h4m-210 2h2m2 0h18m2 0h6m2 0h4m-42 2h4m4 0h20m180 0h2m24 0h2m-228 2h20m2 0h2m2 0h4m72 0h2m74 0h2m14 0h2m8 0h2m-208 2h26m14 0h2m20 0h2m12 0h2m14 0h2m38 0h2m70 0h2m-206 2h26m4 0h2m32 0h2m28 0h2m14 0h2m10 0h2m10 0h2m40 0h2m-178 2h28m4 0h2m82 0h2m32 0h2m46 0h2m20 0h2m28 0h2m-252 2h26m2 0h2m4 0h2m106 0h2m24 0h2m36 0h2m12 0h2m-226 2h30m4 0h2m4 0h4m30 0h2m62 0h2m16 0h2m48 0h2m-210 2h2m4 0h28m2 0h2m92 0h2m12 0h2m18 0h2m12 0h2m54 0h2m-240 2h2m10 0h24m6 0h8m74 0h2m10 0h2m28 0h2m-170 2h2m12 0h24m4 0h2m2 0h2m2 0h2m32 0h2m84 0h2m-170 2h2m8 0h26m2 0h2m10 0h2m50 0h2m16 0h2m16 0h2m22 0h2m18 0h2m14 0h2m38 0h2m-238 2h2m6 0h30m4 0h2m2 0h2m6 0h2m22 0h2m24 0h2m36 0h4m8 0h2m30 0h2m-186 2h2m6 0h26m4 0h2m2 0h6m4 0h2m20 0h4m12 0h2m4 0h2m24 0h2m16 0h2m12 0h2m4 0h2m10 0h2m14 0h2m-190 2h2m2 0h32m10 0h2m4 0h2m34 0h2m18 0h4m20 0h2m14 0h2m14 0h2m12 0h2m8 0h2m4 0h2m-190 2h32m4 0h2m2 0h2m22 0h2m4 0h2m2 0h2m4 0h2m4 0h2m2 0h2m14 0h2m4 0h6m10 0h6m10 0h2m6 0h2m6 0h2m32 0h2m2 0h2m-200 2h28m2 0h4m2 0h2m30 0h2m4 0h2m16 0h2m4 0h2m2 0h2m2 0h2m10 0h2m6 0h2m2 0h6m14 0h2m2 0h2m6 0h4m8 0h2m10 0h2m4 0h2m26 0h2m-222 2h28m2 0h8m4 0h4m22 0h2m2 0h2m22 0h2m8 0h4m12 0h2m12 0h2m4 0h4m6 0h2m2 0h2m6 0h2m36 0h2m4 0h2m18 0h2m-228 2h26m2 0h2m2 0h2m2 0h2m2 0h2m22 0h2m30 0h4m2 0h2m4 0h6m12 0h4m2 0h4m2 0h2m8 0h4m2 0h4m12 0h2m6 0h2m24 0h2m14 0h2m34 0h2m-270 2h2m8 0h30m2 0h2m2 0h2m8 0h2m2 0h2m6 0h4m10 0h2m6 0h2m6 0h2m6 0h6m24 0h2m6 0h2m6 0h2m2 0h2m10 0h4m4 0h2m10 0h2m66 0h2m-260 2h4m4 0h32m2 0h4m4 0h8m32 0h2m8 0h2m2 0h2m16 0h4m6 0h2m2 0h2m16 0h6m2 0h2m14 0h2m8 0h2m2 0h2m6 0h2m2 0h2m8 0h2m22 0h2m-230 2h30m10 0h4m30 0h4m14 0h6m2 0h4m4 0h2m20 0h2m4 0h2m2 0h2m8 0h2m4 0h4m22 0h6m6 0h2m6 0h4m-210 2h38m4 0h2m10 0h2m4 0h2m12 0h2m4 0h4m10 0h2m4 0h4m12 0h2m20 0h2m6 0h2m8 0h2m14 0h2m10 0h2m2 0h4m2 0h4m8 0h2m-202 2h30m6 0h6m4 0h6m2 0h4m26 0h2m18 0h4m8 0h2m10 0h4m2 0h4m18 0h4m36 0h2m2 0h2m2 0h2m-206 2h26m2 0h2m6 0h2m6 0h6m20 0h2m14 0h2m30 0h2m2 0h2m6 0h2m4 0h2m14 0h2m6 0h2m2 0h2m6 0h2m12 0h2m16 0h2m32 0h2m-240 2h28m6 0h2m2 0h2m2 0h4m8 0h2m6 0h2m8 0h2m2 0h2m4 0h2m8 0h4m2 0h2m40 0h2m2 0h2m4 0h2m16 0h2m8 0h2m2 0h2m6 0h2m10 0h2m6 0h2m-226 2h2m2 0h2m6 0h32m8 0h6m8 0h2m6 0h4m4 0h4m10 0h2m12 0h4m4 0h2m2 0h4m16 0h2m2 0h4m4 0h2m2 0h2m32 0h2m18 0h4m2 0h2m6 0h2m-226 2h2m4 0h2m2 0h28m2 0h6m2 0h4m2 0h2m8 0h4m16 0h2m4 0h2m12 0h2m14 0h2m10 0h2m16 0h2m2 0h2m4 0h2m10 0h2m10 0h2m4 0h2m6 0h2m2 0h2m24 0h2m-230 2h2m8 0h28m2 0h2m8 0h2m6 0h4m6 0h4m4 0h2m4 0h2m32 0h2m2 0h2m10 0h2m6 0h2m10 0h2m2 0h2m2 0h2m2 0h4m2 0h2m24 0h2m2 0h2m8 0h4m2 0h4m34 0h2m-250 2h2m2 0h32m2 0h2m2 0h2m8 0h4m6 0h2m24 0h2m6 0h2m26 0h2m16 0h2m2 0h2m6 0h4m22 0h2m-188 2h4m8 0h28m2 0h2m8 0h2m2 0h4m30 0h4m2 0h4m16 0h12m10 0h2m2 0h2m4 0h2m2 0h4m16 0h2m8 0h2m4 0h4m10 0h2m24 0h2m8 0h2m-238 2h4m6 0h34m6 0h2m8 0h6m16 0h2m10 0h4m2 0h2m14 0h4m4 0h4m2 0h2m2 0h2m4 0h2m2 0h2m18 0h2m8 0h2m-168 2h32m2 0h2m18 0h2m20 0h2m14 0h2m2 0h2m4 0h2m8 0h2m2 0h2m8 0h2m4 0h2m20 0h2m2 0h2m10 0h2m8 0h4m2 0h2m16 0h2m30 0h2m-248 2h2m10 0h28m2 0h6m8 0h2m4 0h6m14 0h2m8 0h2m18 0h2m4 0h2m2 0h2m6 0h4m2 0h2m30 0h2m2 0h2m20 0h2m2 0h2m4 0h2m8 0h2m-206 2h36m2 0h8m42 0h2m2 0h2m30 0h2m14 0h2m2 0h2m6 0h2m8 0h2m26 0h2m-198 2h2m4 0h32m2 0h8m2 0h8m18 0h2m16 0h2m86 0h2m18 0h2m4 0h2m22 0h2m-234 2h4m2 0h32m2 0h4m2 0h12m4 0h2m30 0h2m18 0h4m6 0h2m22 0h2m2 0h2m10 0h2m8 0h4m50 0h2m-230 2h2m4 0h34m2 0h12m2 0h2m2 0h2m32 0h2m42 0h2m4 0h2m18 0h2m56 0h2m-226 2h4m2 0h2m2 0h32m4 0h6m4 0h8m4 0h2m2 0h2m130 0h4m-206 2h4m4 0h30m2 0h2m2 0h2m2 0h14m2 0h2m14 0h2m38 0h2m34 0h2m38 0h2m-198 2h2m4 0h32m2 0h4m10 0h2m2 0h2m8 0h2m42 0h2m16 0h2m34 0h2m24 0h2m-188 2h32m2 0h6m8 0h2m4 0h4m4 0h2m144 0h2m-218 2h2m6 0h36m2 0h6m4 0h4m2 0h2m166 0h2m-230 2h2m4 0h34m4 0h2m2 0h6m2 0h4m-58 2h38m4 0h2m4 0h8m2 0h2m4 0h2m30 0h2m52 0h2m-150 2h2m2 0h32m2 0h2m2 0h2m4 0h8m4 0h2m114 0h2m-184 2h2m2 0h2m2 0h34m2 0h4m2 0h2m4 0h2m2 0h2m2 0h4m60 0h2m-128 2h38m4 0h2m6 0h2m2 0h2m6 0h6m-66 2h4m2 0h30m14 0h2m2 0h8m2 0h2m-72 2h2m4 0h2m2 0h36m2 0h2m6 0h2m4 0h2m2 0h2m10 0h2m36 0h2m-116 2h4m4 0h40m2 0h4m4 0h6m-62 2h2m4 0h32m2 0h2m2 0h6m2 0h2m4 0h2m4 0h2m4 0h2m6 0h2m-78 2h2m2 0h34m6 0h2m2 0h2m2 0h4m2 0h4m4 0h2m36 0h2m24 0h2m-132 2h2m2 0h36m6 0h4m6 0h2m2 0h2m2 0h6m44 0h2m24 0h2m-144 2h42m4 0h4m2 0h4m4 0h2m2 0h2m-64 2h38m10 0h2m2 0h10m2 0h2m38 0h4m4 0h2m-114 2h38m4 0h2m6 0h2m2 0h4m2 0h4m6 0h2m70 0h2m-142 2h36m2 0h2m4 0h8m8 0h4m20 0h2m52 0h2m8 0h2m120 0h2m-276 2h2m2 0h40m4 0h4m4 0h6m2 0h2m12 0h2m28 0h2m4 0h4m4 0h2m6 0h2m-138 2h2m6 0h44m2 0h2m2 0h6m6 0h2m16 0h2m82 0h2m-164 2h42m2 0h2m4 0h4m4 0h4m2 0h2m22 0h2m32 0h2m2 0h2m6 0h2m50 0h2m-190 2h40m2 0h4m2 0h4m2 0h4m2 0h2m2 0h2m22 0h2m-94 2h2m4 0h42m4 0h2m2 0h2m10 0h2m-66 2h52m4 0h8m4 0h2m34 0h2m84 0h2m-192 2h50m6 0h2m4 0h2m64 0h2m52 0h2m-190 2h2m4 0h46m8 0h2m2 0h2m4 0h2m80 0h2m20 0h2m-170 2h48m2 0h2m2 0h14m32 0h2m28 0h2m-130 2h50m2 0h8m2 0h2m10 0h2m28 0h2m48 0h2m-158 2h48m2 0h2m2 0h2m4 0h2m8 0h2m22 0h2m26 0h2m40 0h2m10 0h2m-178 2h48m2 0h8m2 0h4m6 0h2m2 0h2m34 0h2m-114 2h2m2 0h62m2 0h2m32 0h2m26 0h2m2 0h2m-134 2h48m6 0h6m2 0h4m80 0h2m8 0h2m8 0h2m2 0h2m8 0h2m16 0h2m-202 2h52m8 0h2m20 0h2m6 0h2m54 0h2m30 0h2m28 0h2m8 0h2m-220 2h50m6 0h6m6 0h2m100 0h2m-170 2h48m6 0h2m2 0h4m58 0h2m84 0h2m22 0h2m-232 2h50m4 0h4m2 0h2m10 0h2m10 0h2m104 0h2m50 0h2m-244 2h50m2 0h2m4 0h8m16 0h2m48 0h2m86 0h2m-260 2h2m34 0h54m4 0h2m12 0h2m16 0h2m96 0h2m16 0h2m-208 2h54m6 0h2m58 0h2m30 0h2m18 0h2m36 0h2m46 0h2m-258 2h66m114 0h2m14 0h2m-202 2h58m4 0h4m6 0h2m128 0h4m-204 2h60m4 0h2m14 0h2m36 0h2m34 0h2m16 0h2m4 0h2m6 0h2m28 0h2m16 0h2m-254 2h2m14 0h66m94 0h2m76 0h2m-236 2h56m6 0h2m38 0h2m8 0h2m22 0h2m12 0h2m26 0h2m46 0h2m-230 2h58m2 0h2m6 0h4m24 0h4m36 0h2m8 0h2m38 0h2m62 0h2m-252 2h62m6 0h2m6 0h2m20 0h2m20 0h2m44 0h2m6 0h2m2 0h2m24 0h2m48 0h2m-262 2h2m4 0h60m68 0h4m68 0h2m-204 2h62m22 0h2m10 0h2m2 0h2m72 0h2m-174 2h60m2 0h2m8 0h2m6 0h2m8 0h4m14 0h2m4 0h6m2 0h2m22 0h2m62 0h2m4 0h4m16 0h2m16 0h2m-258 2h64m4 0h2m6 0h2m14 0h2m14 0h2m10 0h2m4 0h2m2 0h2m18 0h2m14 0h2m18 0h2m52 0h2m18 0h2m-258 2h60m4 0h2m6 0h2m14 0h2m48 0h2m8 0h2m46 0h2m6 0h2m-210 2h66m2 0h4m46 0h2m22 0h2m14 0h2m2 0h2m-162 2h68m24 0h4m4 0h2m4 0h2m2 0h4m26 0h2m8 0h4m10 0h2m40 0h2m-208 2h64m2 0h2m2 0h4m4 0h2m14 0h2m16 0h2m2 0h4m12 0h2m2 0h4m12 0h2m28 0h2m14 0h2m-202 2h2m2 0h60m2 0h2m18 0h2m10 0h2m24 0h2m10 0h2m118 0h2m-262 2h2m4 0h64m8 0h2m8 0h2m58 0h2m6 0h2m22 0h2m32 0h2m-212 2h64m34 0h2m10 0h2m14 0h2m6 0h2m16 0h2m8 0h2m2 0h2m76 0h2m18 0h2m-262 2h60m2 0h2m24 0h2m20 0h2m8 0h2m14 0h4m8 0h2m42 0h2m56 0h2m-260 2h2m4 0h62m6 0h2m16 0h2m54 0h2m2 0h2m4 0h2m42 0h2m2 0h2m52 0h2m-256 2h62m4 0h2m2 0h6m14 0h2m40 0h2m4 0h4m60 0h2m52 0h2m-290 2h2m32 0h60m2 0h2m2 0h2m32 0h2m10 0h2m14 0h2m12 0h2m44 0h4m30 0h2m-230 2h2m4 0h62m24 0h2m20 0h2m32 0h2m56 0h2m18 0h2m22 0h2m-246 2h58m2 0h4m2 0h2m76 0h2m38 0h4m4 0h2m-218 2h2m18 0h2m2 0h58m4 0h2m-62 2h54m2 0h4m18 0h2m34 0h2m22 0h2m86 0h2m4 0h2m-236 2h2m2 0h50m2 0h2m20 0h2m6 0h2m4 0h2m14 0h2m72 0h2m38 0h2m10 0h2m-240 2h2m4 0h48m4 0h2m10 0h2m4 0h2m10 0h2m54 0h2m-148 2h2m2 0h2m2 0h2m4 0h42m4 0h2m4 0h4m-70 2h2m12 0h2m10 0h12m2 0h12m4 0h2m6 0h6m80 0h2m-140 2h2m4 0h2m16 0h2m6 0h2m8 0h6m4 0h2m22 0h2m174 0h2m-256 2h4m12 0h2m14 0h2m4 0h2m-44 2h2m2 0h2m6 0h2m14 0h2m2 0h4m2 0h4m6 0h8m2 0h2m-58 2h4m8 0h2m36 0h2m-46 2h2m18 0h2m-8 2h2m-16 30h2m226 0h2m-46 8h2m24 12h2m-202 6h2m-8 4h2m-14 8h2" stroke="#000" stroke-width="2" fill="none"/>
<path d="M856 1011h2m-20 4h2m12 0h2m-22 2h2m18 2h2m-16 4h2m4 0h4m-8 2h2m2 0h2m10 0h2m-14 4h2m-6 4h2m6 0h6m-24 4h2m4 6h2m4 0h2m-8 2h2m2 0h4m20 0h2m-30 2h2m6 0h2m2 0h2m8 0h2m-18 4h2m6 0h2m-24 2h2m26 0h2m-8 2h2m-14 2h2m8 2h2m2 0h2m-20 2h2m20 0h2m-24 2h2m2 0h2m2 0h2m14 0h2m-22 2h2m2 2h2m2 0h2m-8 2h2m16 0h2m-30 2h2m26 0h2m-12 2h2m8 0h2m-20 4h2m-10 2h2m2 0h2m-8 2h2m16 0h2m4 0h2m-6 2h2m2 0h2m-22 4h4m8 0h2m-12 2h2m2 2h6m14 0h2m-24 2h2m16 2h2m-24 2h2m10 0h2m8 0h2m10 0h2m-26 2h2m8 0h2m-16 2h2m12 0h2m-22 2h2m16 2h2m-22 2h2m16 0h2m-6 2h2m2 0h2m12 0h2m-12 2h2m-22 2h2m12 0h2m-14 2h6m-4 2h2m2 0h2m4 0h2m-8 2h2m4 0h2m10 0h2m-12 2h2m4 0h2m8 0h2m-44 2h2m24 0h2m-10 2h4m2 0h2m2 0h2m162 0h2m-174 2h4m-12 2h2m22 0h2m132 0h2m-156 2h2m18 0h2m-2 2h2m-26 2h2m8 0h2m-24 2h2m22 2h2m10 0h2m-24 2h4m6 0h2m10 0h2m-22 2h2m4 0h2m4 0h2m-20 2h2m6 0h2m-10 2h4m16 0h4m2 0h2m-8 2h2m4 0h2m-20 2h2m2 0h2m-24 2h2m14 0h2m94 0h2m-110 2h2m10 0h2m16 0h2m-18 2h2m0 2h4m10 0h2m-32 2h4m8 0h4m2 0h2m2 0h6m-24 2h2m14 0h2m6 0h2m2 0h4m-26 2h2m6 0h2m10 0h6m50 0h2m-90 2h2m10 0h2m2 0h2m6 0h4m2 0h2m-30 2h2m2 0h2m2 0h4m2 0h6m8 0h2m4 0h2m38 0h2m-78 2h2m2 0h2m2 0h6m4 0h2m2 0h2m4 0h2m-20 2h8m2 0h2m2 0h2m2 0h2m2 0h6m-26 2h6m2 0h6m2 0h4m2 0h4m-34 2h2m4 0h4m2 0h2m4 0h2m12 0h2m-40 2h2m10 0h4m2 0h2m4 0h2m2 0h2m-26 2h4m4 0h4m6 0h10m10 0h2m-36 2h4m4 0h2m2 0h2m2 0h2m2 0h2m6 0h2m-18 2h2m2 0h4m2 0h2m10 0h2m-32 2h2m2 0h8m6 0h2m6 0h2m-26 2h8m2 0h2m8 0h2m-28 2h4m4 0h10m2 0h2m2 0h2m2 0h2m2 0h2m-34 2h2m2 0h8m2 0h6m8 0h2m-30 2h2m2 0h4m2 0h2m8 0h2m6 0h6m-36 2h4m2 0h10m2 0h8m2 0h4m2 0h2m-34 2h2m2 0h4m14 0h2m4 0h2m-28 2h2m8 0h4m4 0h4m6 0h2m4 0h2m-38 2h12m2 0h4m2 0h2m6 0h2m-34 2h2m2 0h2m8 0h12m4 0h6m2 0h4m-42 2h2m2 0h8m6 0h2m2 0h4m4 0h6m2 0h2m-34 2h2m2 0h2m4 0h8m2 0h2m6 0h2m-32 2h2m6 0h2m4 0h6m4 0h2m6 0h2m-40 2h2m8 0h2m10 0h2m2 0h2m2 0h2m-30 2h6m2 0h2m4 0h6m4 0h2m2 0h4m-24 2h4m2 0h4m4 0h6m4 0h4m2 0h2m-38 2h2m2 0h12m2 0h4m4 0h2m32 0h2m-58 2h8m2 0h4m2 0h2m2 0h4m2 0h2m-30 2h16m10 0h2m4 0h2m6 0h2m-38 2h10m2 0h4m6 0h2m14 0h2m8 0h2m-54 2h16m2 0h2m2 0h4m2 0h2m4 0h4m4 0h2m-44 2h20m6 0h2m2 0h4m4 0h2m6 0h2m38 0h2m-86 2h16m2 0h2m4 0h2m2 0h4m2 0h4m30 0h2m-70 2h16m10 0h4m2 0h4m8 0h2m60 0h4m-112 2h2m2 0h14m2 0h4m2 0h2m2 0h2m6 0h2m4 0h2m2 0h2m-58 2h2m2 0h4m2 0h14m2 0h4m4 0h2m2 0h4m4 0h4m34 0h2m-82 2h24m4 0h2m2 0h2m4 0h2m6 0h4m10 0h2m-60 2h22m4 0h4m6 0h2m2 0h2m6 0h2m20 0h2m-72 2h2m2 0h30m4 0h2m2 0h2m2 0h2m-46 2h24m4 0h4m6 0h2m2 0h4m2 0h4m142 0h2m-198 2h2m2 0h18m2 0h4m4 0h4m2 0h12m34 0h2m-92 2h2m6 0h28m10 0h2m-44 2h2m2 0h32m6 0h2m2 0h6m6 0h2m22 0h2m12 0h2m10 0h2m-106 2h26m8 0h8m4 0h2m6 0h2m6 0h2m-66 2h28m2 0h2m2 0h2m4 0h10m12 0h4m36 0h2m-104 2h32m8 0h2m4 0h2m46 0h2m38 0h2m-136 2h34m2 0h10m2 0h2m4 0h6m2 0h2m-66 2h34m2 0h2m2 0h2m2 0h2m2 0h4m4 0h2m4 0h2m46 0h2m2 0h4m4 0h2m22 0h2m-144 2h32m6 0h4m2 0h2m2 0h4m2 0h2m2 0h2m-62 2h36m4 0h4m4 0h2m2 0h4m4 0h2m-64 2h40m2 0h2m2 0h4m4 0h4m2 0h2m6 0h2m12 0h4m-88 2h2m4 0h38m2 0h4m4 0h4m2 0h2m2 0h4m-68 2h2m2 0h40m6 0h6m2 0h6m6 0h2m176 0h2m-244 2h34m10 0h4m6 0h4m6 0h2m-70 2h2m2 0h36m10 0h2m10 0h6m-66 2h38m4 0h2m2 0h4m2 0h2m4 0h6m4 0h2m2 0h2m-72 2h36m4 0h2m2 0h2m2 0h2m4 0h2m4 0h4m-66 2h38m10 0h2m2 0h6m-54 2h38m2 0h2m8 0h6m2 0h2m-68 2h2m2 0h60m2 0h2m102 0h2m-164 2h36m2 0h2m4 0h4m4 0h2m2 0h2m2 0h2m2 0h2m2 0h2m20 0h2m2 0h2m48 0h2m-152 2h4m2 0h38m4 0h6m4 0h2m4 0h2m-68 2h2m4 0h2m2 0h4m2 0h28m2 0h2m2 0h4m4 0h2m2 0h2m28 0h2m-90 2h12m2 0h4m2 0h18m6 0h6m6 0h4m130 0h2m-196 2h2m4 0h16m2 0h2m6 0h8m10 0h2m2 0h2m4 0h8m2 0h2m-68 2h2m2 0h8m2 0h8m4 0h2m2 0h2m2 0h2m4 0h2m2 0h2m6 0h2m-52 2h2m2 0h4m4 0h4m2 0h2m10 0h2m2 0h2m2 0h2m16 0h2m-50 2h2m6 0h4m4 0h2m6 0h6m2 0h2m6 0h2m-46 2h4m10 0h4m4 0h2m6 0h2m16 0h2m-50 2h2m6 0h2m6 0h2m10 2h2m-34 2h2m26 0h2m4 0h2m54 0h2m-56 14h2m4 32h2" stroke="#000" stroke-width="2" fill="none"/>
<rect x="156.8" y="931.5" width="466" height="465" fill="none" stroke="#000" stroke-width="2.2"/>
<path d="M185.6 1396.5v12.5M271.8 1396.5v12.5M338.6 1396.5v12.5M465.8 1396.5v12.5M577 1396.5v12.5M190 1396.5v6.5M195.3 1396.5v6.5M200.3 1396.5v6.5M205.3 1396.5v6.5M210.6 1396.5v6.5M218 1396.5v6.5M228.3 1396.5v6.5M233.6 1396.5v6.5M239.4 1396.5v6.5M244.4 1396.5v6.5M279.8 1396.5v6.5M287.1 1396.5v6.5M293 1396.5v6.5M304.2 1396.5v6.5M310.7 1396.5v6.5M316.5 1396.5v6.5M322.4 1396.5v6.5M328.3 1396.5v6.5M332.1 1396.5v6.5M376.89 1396.5v6.5M399.29 1396.5v6.5M415.18 1396.5v6.5M427.51 1396.5v6.5M437.58 1396.5v6.5M446.1 1396.5v6.5M453.47 1396.5v6.5M459.98 1396.5v6.5M499.27 1396.5v6.5M518.86 1396.5v6.5M532.75 1396.5v6.5M543.53 1396.5v6.5M552.33 1396.5v6.5M559.77 1396.5v6.5M566.22 1396.5v6.5M571.91 1396.5v6.5M610.47 1396.5v6.5M251.8 1396.5v12.5M253.7 1396.5v8M255.6 1396.5v10M257.5 1396.5v6.5M259.4 1396.5v12.5M261.3 1396.5v9M263.2 1396.5v7M265.1 1396.5v11M267 1396.5v12.5M268.9 1396.5v10M270.8 1396.5v12.5" stroke="#000" stroke-width="2" fill="none"/>
<path d="M156.8 975h-12.5M156.8 1086h-12.5M156.8 1213.2h-12.5M156.8 1289h-12.5M156.8 1366h-12.5M156.8 944h-6.5M156.8 1052.59h-6.5M156.8 1033.04h-6.5M156.8 1019.17h-6.5M156.8 1008.41h-6.5M156.8 999.63h-6.5M156.8 992.19h-6.5M156.8 985.76h-6.5M156.8 980.08h-6.5M156.8 1174.91h-6.5M156.8 1152.51h-6.5M156.8 1136.62h-6.5M156.8 1124.29h-6.5M156.8 1114.22h-6.5M156.8 1105.7h-6.5M156.8 1098.33h-6.5M156.8 1091.82h-6.5M156.8 1216.8h-6.5M156.8 1221.6h-6.5M156.8 1226.5h-6.5M156.8 1233.7h-6.5M156.8 1243.4h-6.5M156.8 1254.2h-6.5M156.8 1267.5h-6.5M156.8 1279.5h-6.5M156.8 1303.7h-6.5M156.8 1315.8h-6.5M156.8 1330.2h-6.5M156.8 1339.9h-6.5M156.8 1347.1h-6.5M156.8 1354.4h-6.5M156.8 1361.6h-6.5M156.8 1383.3h-6.5M156.8 1282.5h-12.5M156.8 1284.25h-8M156.8 1286h-11M156.8 1287.75h-7M156.8 1289.5h-12.5M156.8 1291.25h-9M156.8 1293h-10M156.8 1294.75h-12.5M156.8 1296.5h-9" stroke="#000" stroke-width="2" fill="none"/>
<text x="180.11" y="1435.7" font-size="15.4" fill="#000">-10</text><text x="209.21" y="1424.5" font-size="15.4" fill="#000">3</text>
<text transform="translate(265.3 1435.64) scale(1.1423 1)" font-size="15.4" fill="#000">0</text>
<text x="335.85" y="1435.7" font-size="15.4" fill="#000">10</text><text x="357.08" y="1424.5" font-size="15.4" fill="#000">3</text>
<text x="463.05" y="1435.7" font-size="15.4" fill="#000">10</text><text x="484.52" y="1424.5" font-size="15.4" fill="#000">4</text>
<text x="574.25" y="1435.7" font-size="15.4" fill="#000">10</text><text x="595.45" y="1424.5" font-size="15.4" fill="#000">5</text>
<text x="102.88" y="985.2" font-size="15.4" fill="#000">10</text><text x="124.08" y="974.3" font-size="15.4" fill="#000">5</text>
<text x="102.88" y="1096.2" font-size="15.4" fill="#000">10</text><text x="124.35" y="1085.3" font-size="15.4" fill="#000">4</text>
<text x="102.88" y="1223.4" font-size="15.4" fill="#000">10</text><text x="124.12" y="1212.5" font-size="15.4" fill="#000">3</text>
<text transform="translate(113.94 1294.14) scale(1.0743 1)" font-size="15.4" fill="#000">0</text>
<text x="95.82" y="1376.2" font-size="15.4" fill="#000">-10</text><text x="124.12" y="1365.3" font-size="15.4" fill="#000">3</text>
<rect x="728.6" y="934.5" width="466" height="465" fill="none" stroke="#000" stroke-width="2.2"/>
<path d="M757.4 1399.5v12.5M843.6 1399.5v12.5M910.4 1399.5v12.5M1037.6 1399.5v12.5M1148.8 1399.5v12.5M761.8 1399.5v6.5M767.1 1399.5v6.5M772.1 1399.5v6.5M777.1 1399.5v6.5M782.4 1399.5v6.5M789.8 1399.5v6.5M800.1 1399.5v6.5M805.4 1399.5v6.5M811.2 1399.5v6.5M816.2 1399.5v6.5M851.6 1399.5v6.5M858.9 1399.5v6.5M864.8 1399.5v6.5M876 1399.5v6.5M882.5 1399.5v6.5M888.3 1399.5v6.5M894.2 1399.5v6.5M900.1 1399.5v6.5M903.9 1399.5v6.5M948.69 1399.5v6.5M971.09 1399.5v6.5M986.98 1399.5v6.5M999.31 1399.5v6.5M1009.38 1399.5v6.5M1017.9 1399.5v6.5M1025.27 1399.5v6.5M1031.78 1399.5v6.5M1071.07 1399.5v6.5M1090.66 1399.5v6.5M1104.55 1399.5v6.5M1115.33 1399.5v6.5M1124.13 1399.5v6.5M1131.57 1399.5v6.5M1138.02 1399.5v6.5M1143.71 1399.5v6.5M1182.27 1399.5v6.5M823.6 1399.5v12.5M825.5 1399.5v8M827.4 1399.5v10M829.3 1399.5v6.5M831.2 1399.5v12.5M833.1 1399.5v9M835 1399.5v7M836.9 1399.5v11M838.8 1399.5v12.5M840.7 1399.5v10M842.6 1399.5v12.5" stroke="#000" stroke-width="2" fill="none"/>
<path d="M728.6 978h-12.5M728.6 1089h-12.5M728.6 1216.2h-12.5M728.6 1292h-12.5M728.6 1369h-12.5M728.6 947h-6.5M728.6 1055.59h-6.5M728.6 1036.04h-6.5M728.6 1022.17h-6.5M728.6 1011.41h-6.5M728.6 1002.63h-6.5M728.6 995.19h-6.5M728.6 988.76h-6.5M728.6 983.08h-6.5M728.6 1177.91h-6.5M728.6 1155.51h-6.5M728.6 1139.62h-6.5M728.6 1127.29h-6.5M728.6 1117.22h-6.5M728.6 1108.7h-6.5M728.6 1101.33h-6.5M728.6 1094.82h-6.5M728.6 1219.8h-6.5M728.6 1224.6h-6.5M728.6 1229.5h-6.5M728.6 1236.7h-6.5M728.6 1246.4h-6.5M728.6 1257.2h-6.5M728.6 1270.5h-6.5M728.6 1282.5h-6.5M728.6 1306.7h-6.5M728.6 1318.8h-6.5M728.6 1333.2h-6.5M728.6 1342.9h-6.5M728.6 1350.1h-6.5M728.6 1357.4h-6.5M728.6 1364.6h-6.5M728.6 1386.3h-6.5M728.6 1285.5h-12.5M728.6 1287.25h-8M728.6 1289h-11M728.6 1290.75h-7M728.6 1292.5h-12.5M728.6 1294.25h-9M728.6 1296h-10M728.6 1297.75h-12.5M728.6 1299.5h-9" stroke="#000" stroke-width="2" fill="none"/>
<text x="751.91" y="1438.7" font-size="15.4" fill="#000">-10</text><text x="781" y="1427.5" font-size="15.4" fill="#000">3</text>
<text transform="translate(837.1 1438.64) scale(1.1423 1)" font-size="15.4" fill="#000">0</text>
<text x="907.65" y="1438.7" font-size="15.4" fill="#000">10</text><text x="928.88" y="1427.5" font-size="15.4" fill="#000">3</text>
<text x="1034.85" y="1438.7" font-size="15.4" fill="#000">10</text><text x="1056.31" y="1427.5" font-size="15.4" fill="#000">4</text>
<text x="1146.05" y="1438.7" font-size="15.4" fill="#000">10</text><text x="1167.25" y="1427.5" font-size="15.4" fill="#000">5</text>
<text x="674.68" y="988.2" font-size="15.4" fill="#000">10</text><text x="695.88" y="977.3" font-size="15.4" fill="#000">5</text>
<text x="674.68" y="1099.2" font-size="15.4" fill="#000">10</text><text x="696.15" y="1088.3" font-size="15.4" fill="#000">4</text>
<text x="674.68" y="1226.4" font-size="15.4" fill="#000">10</text><text x="695.92" y="1215.5" font-size="15.4" fill="#000">3</text>
<text transform="translate(685.74 1297.14) scale(1.0743 1)" font-size="15.4" fill="#000">0</text>
<text x="667.62" y="1379.2" font-size="15.4" fill="#000">-10</text><text x="695.92" y="1368.3" font-size="15.4" fill="#000">3</text>
<rect x="320.5" y="1066.3" width="216.7" height="107.1" fill="none" stroke="#000" stroke-width="2.2"/>
<rect x="899.8" y="1070.8" width="216.2" height="108.7" fill="none" stroke="#000" stroke-width="2.2"/>
<text transform="translate(404.47 1051.39) scale(1.0046 1)" font-size="50.6" fill="#000">0.67</text>
<text transform="translate(975.98 1058.49) scale(0.9799 1)" font-size="51.45" fill="#000">0.026</text>
<text transform="translate(86.12 1392.05) rotate(-90) scale(0.9129 1)" font-size="57.95" fill="#231f20">CD95</text>
<text transform="translate(155.33 1489.28) scale(1.0279 1)" font-size="52.01" fill="#231f20">GL7</text>
<path d="M69.8 1253 L73.1 905" stroke="#231f20" stroke-width="2.2" fill="none"/>
<path d="M73.3 895 L62.6 914 L73.3 909 L84 914Z" fill="#231f20"/>
<path d="M257.5 1474.9 L1178 1474" stroke="#231f20" stroke-width="2.2" fill="none"/>
<path d="M1187.9 1473.9 L1169.4 1463.6 L1174.4 1473.9 L1169.4 1484.2Z" fill="#231f20"/>
<text transform="translate(-4.18 1652.4) scale(0.9872 1)" font-size="61.09" fill="#231f20" stroke="#231f20" stroke-width="1.6" stroke-linejoin="round">F</text>
<text transform="translate(152.58 1652.88) scale(1.0091 1)" font-size="51.97" fill="#231f20">Gated on CD4</text>
<text transform="translate(492.32 1634.74) scale(0.9297 1)" font-size="24.49" fill="#231f20">+</text>
<text transform="translate(520.72 1652.88) scale(1.0084 1)" font-size="51.97" fill="#231f20">T cells</text>
<line x1="155.2" y1="1663.4" x2="1122" y2="1663.4" stroke="#000" stroke-width="4.4" stroke-dasharray="13.9 16.95" stroke-dashoffset="6.9"/>
<text transform="translate(150.87 1712) scale(1.0580 1)" font-size="49.66" fill="#231f20">EAU Ctrl</text>
<text transform="translate(712.27 1715.2) scale(1.0511 1)" font-size="49.93" fill="#231f20">anti-CD40L</text>
<path d="M286 1881h2m-12 2h2m20 0h2m8 0h2m-18 2h2m4 2h2m8 0h2m4 0h2m-46 2h2m6 0h2m22 0h2m8 0h2m6 0h2m4 0h2m4 0h2m6 0h2m-72 2h2m40 0h4m-24 2h2m4 0h4m24 0h2m2 0h2m4 0h2m-56 2h2m24 0h2m4 0h2m8 0h2m2 0h4m-46 2h2m4 0h2m10 0h2m2 0h4m4 0h2m26 0h2m-72 2h2m26 0h2m18 0h2m6 0h2m2 0h2m-68 2h2m10 0h2m6 0h2m8 0h2m4 0h4m8 0h2m4 0h2m2 0h2m8 0h2m-52 2h2m8 0h2m8 0h2m2 0h4m6 0h4m6 0h2m2 0h2m4 0h2m-82 2h2m22 0h4m2 0h6m2 0h2m2 0h2m14 0h2m4 0h2m-72 2h2m6 0h2m10 0h4m2 0h2m2 0h4m6 0h2m6 0h2m8 0h2m4 0h2m22 0h2m2 0h2m-80 2h4m6 0h4m2 0h4m6 0h2m4 0h2m4 0h2m4 0h2m4 0h2m10 0h4m8 0h2m-74 2h4m8 0h2m2 0h2m4 0h6m4 0h8m2 0h2m4 0h2m6 0h2m2 0h6m2 0h2m-76 2h2m6 0h2m2 0h10m2 0h4m2 0h2m6 0h4m4 0h10m12 0h2m-78 2h2m10 0h4m6 0h4m2 0h8m2 0h10m2 0h2m2 0h8m2 0h4m2 0h4m6 0h8m2 0h4m-76 2h8m2 0h2m2 0h10m4 0h2m2 0h12m8 0h2m6 0h4m8 0h2m6 0h2m-94 2h2m4 0h2m4 0h2m2 0h4m2 0h8m2 0h6m2 0h16m6 0h4m2 0h2m2 0h6m4 0h2m4 0h2m-88 2h2m2 0h2m2 0h2m2 0h6m2 0h10m2 0h8m2 0h14m2 0h2m2 0h2m4 0h2m6 0h2m10 0h2m-98 2h2m4 0h4m2 0h8m2 0h28m2 0h6m2 0h4m6 0h8m2 0h4m4 0h2m-96 2h2m12 0h32m2 0h20m2 0h4m2 0h2m2 0h2m2 0h2m2 0h2m12 0h2m2 0h2m-112 2h2m4 0h2m6 0h2m2 0h12m2 0h8m6 0h14m2 0h4m2 0h8m6 0h2m12 0h2m2 0h2m6 0h2m-104 2h4m2 0h2m2 0h2m4 0h12m2 0h18m2 0h4m2 0h12m2 0h6m4 0h2m24 0h2m-112 2h2m8 0h2m2 0h14m2 0h2m2 0h4m2 0h18m2 0h16m2 0h4m2 0h4m2 0h2m2 0h4m-86 2h6m4 0h2m2 0h2m2 0h6m2 0h2m2 0h22m2 0h10m2 0h14m2 0h2m2 0h4m-118 2h2m8 0h2m10 0h2m4 0h16m2 0h14m2 0h20m2 0h12m2 0h4m2 0h10m-98 2h2m6 0h2m4 0h8m2 0h2m2 0h26m2 0h6m2 0h22m2 0h8m2 0h2m-88 2h10m2 0h20m6 0h10m2 0h6m2 0h22m2 0h2m8 0h2m10 0h2m8 0h2m-136 2h2m2 0h2m4 0h2m2 0h8m2 0h2m2 0h10m2 0h16m2 0h6m2 0h6m2 0h4m2 0h16m2 0h6m2 0h2m-92 2h4m2 0h12m2 0h2m2 0h12m4 0h28m2 0h6m2 0h8m2 0h2m2 0h4m-106 2h2m2 0h8m2 0h4m2 0h6m6 0h2m6 0h6m2 0h20m2 0h14m4 0h2m2 0h4m6 0h2m6 0h2m-118 2h2m2 0h2m4 0h2m2 0h4m8 0h10m2 0h12m2 0h34m2 0h4m2 0h8m8 0h2m6 0h2m-112 2h2m4 0h4m2 0h36m2 0h8m8 0h2m4 0h2m2 0h18m6 0h4m8 0h4m2 0h2m-116 2h4m4 0h6m2 0h4m2 0h26m2 0h10m2 0h4m2 0h4m2 0h6m2 0h6m2 0h2m4 0h2m-100 2h10m2 0h6m2 0h36m2 0h4m2 0h4m4 0h20m2 0h4m-116 2h2m14 0h4m2 0h4m2 0h16m2 0h14m2 0h4m2 0h6m2 0h20m4 0h6m2 0h4m2 0h4m-104 2h6m2 0h10m2 0h16m2 0h8m2 0h8m2 0h8m2 0h4m2 0h4m4 0h8m4 0h2m2 0h2m4 0h4m-102 2h2m2 0h16m6 0h10m4 0h14m2 0h22m2 0h2m2 0h6m50 0h2m-150 2h4m2 0h2m2 0h2m2 0h22m2 0h4m2 0h4m2 0h6m2 0h2m2 0h16m2 0h2m2 0h20m4 0h2m-110 2h6m6 0h22m2 0h8m2 0h4m2 0h12m2 0h8m2 0h2m4 0h18m2 0h2m2 0h4m-114 2h4m2 0h2m4 0h6m4 0h2m2 0h32m4 0h2m2 0h18m2 0h18m2 0h6m16 0h2m40 0h2m-180 2h2m6 0h2m6 0h2m10 0h6m2 0h18m2 0h4m2 0h10m2 0h8m2 0h20m2 0h6m2 0h2m14 0h2m-132 2h2m10 0h2m4 0h2m4 0h18m2 0h22m2 0h10m4 0h4m2 0h2m2 0h6m2 0h6m2 0h4m4 0h2m14 0h2m-132 2h2m10 0h12m4 0h10m2 0h4m2 0h2m4 0h14m2 0h10m2 0h6m2 0h22m2 0h4m6 0h2m-110 2h2m2 0h8m2 0h6m2 0h16m2 0h12m4 0h12m2 0h10m2 0h6m2 0h8m8 0h2m6 0h2m-126 2h4m4 0h4m2 0h12m2 0h2m2 0h4m2 0h6m2 0h4m2 0h8m2 0h6m2 0h4m4 0h8m2 0h8m2 0h8m2 0h2m4 0h2m4 0h2m-116 2h2m6 0h8m2 0h20m4 0h2m2 0h6m2 0h22m2 0h4m2 0h10m2 0h10m2 0h2m4 0h2m-122 2h2m10 0h10m2 0h2m2 0h2m2 0h22m2 0h42m2 0h8m2 0h2m22 0h2m-138 2h2m4 0h2m4 0h10m2 0h8m4 0h8m2 0h2m2 0h24m2 0h12m2 0h28m4 0h2m8 0h2m-136 2h2m8 0h8m2 0h2m2 0h2m4 0h2m2 0h2m2 0h2m4 0h24m2 0h2m2 0h14m2 0h2m6 0h16m2 0h2m2 0h2m12 0h2m-132 2h6m4 0h34m2 0h40m2 0h24m2 0h2m14 0h2m-140 2h2m12 0h2m2 0h10m2 0h4m2 0h52m2 0h14m4 0h4m2 0h2m4 0h2m4 0h2m-118 2h2m4 0h4m2 0h14m4 0h2m2 0h52m2 0h8m2 0h6m2 0h2m2 0h2m6 0h4m-126 2h4m8 0h78m2 0h2m2 0h10m2 0h4m2 0h2m2 0h2m4 0h2m-124 2h2m4 0h6m2 0h2m2 0h4m2 0h72m2 0h6m4 0h4m2 0h4m26 0h2m-136 2h2m2 0h10m2 0h80m4 0h2m2 0h2m2 0h8m-128 2h2m4 0h2m2 0h80m4 0h4m2 0h4m2 0h10m-122 2h2m4 0h2m8 0h10m2 0h82m2 0h6m2 0h4m6 0h2m-124 2h2m2 0h4m2 0h2m4 0h4m2 0h74m2 0h2m2 0h4m4 0h4m16 0h2m8 0h2m-136 2h4m6 0h6m4 0h68m2 0h6m2 0h8m2 0h2m-114 2h2m4 0h2m4 0h2m2 0h4m2 0h72m2 0h2m4 0h12m4 0h2m2 0h2m2 0h2m-120 2h88m2 0h10m2 0h2m14 0h2m-136 2h2m4 0h2m2 0h4m2 0h14m2 0h64m2 0h2m2 0h2m2 0h8m2 0h4m10 0h2m14 0h2m-134 2h2m6 0h76m2 0h2m2 0h2m2 0h2m2 0h2m2 0h2m2 0h2m2 0h2m44 0h2m-162 2h10m2 0h78m2 0h8m2 0h4m2 0h2m2 0h2m4 0h2m-134 2h2m2 0h2m10 0h4m2 0h2m4 0h82m4 0h12m12 0h4m-130 2h4m2 0h2m2 0h2m2 0h82m4 0h8m4 0h2m-130 2h2m10 0h2m6 0h104m4 0h2m-114 2h2m2 0h2m4 0h2m2 0h98m2 0h2m2 0h2m-114 2h2m2 0h100m4 0h2m-112 2h90m4 0h10m2 0h2m2 0h2m4 0h2m32 0h2m-172 2h2m12 0h4m4 0h12m2 0h78m2 0h6m2 0h2m6 0h2m2 0h4m8 0h2m4 0h2m6 0h2m10 0h2m-162 2h6m2 0h12m2 0h96m22 0h2m-138 2h12m2 0h74m2 0h12m2 0h8m2 0h2m6 0h2m8 0h2m-140 2h4m2 0h2m4 0h94m2 0h4m4 0h2m8 0h2m-144 2h2m20 0h4m2 0h106m2 0h2m-114 2h2m2 0h8m2 0h74m2 0h8m4 0h6m2 0h4m6 0h2m12 0h2m-142 2h2m8 0h2m2 0h92m4 0h6m2 0h4m18 0h2m-148 2h2m8 0h2m6 0h90m2 0h4m2 0h8m4 0h4m-126 2h4m6 0h2m8 0h84m2 0h8m2 0h2m2 0h2m-128 2h4m2 0h2m2 0h2m4 0h4m2 0h82m4 0h4m2 0h2m2 0h6m2 0h2m4 0h2m-124 2h14m4 0h2m2 0h72m2 0h2m2 0h4m2 0h4m2 0h2m14 0h2m8 0h2m-140 2h4m2 0h2m2 0h102m4 0h2m-122 2h2m2 0h2m2 0h6m4 0h84m2 0h6m2 0h2m4 0h6m20 0h2m8 0h2m-150 2h6m2 0h4m2 0h74m2 0h4m2 0h18m-116 2h4m2 0h92m2 0h6m2 0h2m8 0h2m2 0h2m2 0h2m-138 2h2m8 0h6m4 0h80m2 0h22m-130 2h4m6 0h4m4 0h8m4 0h100m2 0h2m-134 2h2m10 0h6m2 0h16m2 0h76m2 0h4m6 0h2m2 0h4m8 0h2m-154 2h2m12 0h2m6 0h4m8 0h2m2 0h92m2 0h2m2 0h2m-130 2h2m14 0h4m2 0h2m2 0h10m2 0h84m2 0h2m2 0h4m-112 2h4m2 0h4m2 0h84m2 0h2m6 0h4m2 0h4m14 0h2m-152 2h2m10 0h2m12 0h88m2 0h2m2 0h6m2 0h2m4 0h2m30 0h2m-154 2h2m4 0h8m4 0h86m4 0h2m6 0h2m10 0h2m-156 2h2m28 0h2m4 0h16m2 0h70m2 0h4m2 0h6m4 0h2m4 0h2m-150 2h2m32 0h2m2 0h4m2 0h6m2 0h76m2 0h6m2 0h10m6 0h4m6 0h2m-144 2h2m6 0h2m2 0h4m4 0h2m2 0h74m2 0h16m2 0h2m18 0h2m-138 2h6m4 0h94m2 0h6m2 0h2m2 0h2m8 0h2m-128 2h4m2 0h6m2 0h8m2 0h76m2 0h14m4 0h2m6 0h2m20 0h4m-162 2h2m6 0h2m2 0h2m4 0h2m2 0h78m2 0h24m12 0h2m-148 2h2m12 0h2m2 0h6m2 0h2m2 0h92m2 0h6m4 0h4m2 0h2m4 0h4m-130 2h2m4 0h14m2 0h74m2 0h2m2 0h12m2 0h2m10 0h2m-134 2h2m6 0h4m4 0h98m2 0h4m2 0h2m6 0h2m-136 2h4m2 0h4m6 0h4m2 0h82m2 0h14m2 0h2m8 0h2m-124 2h2m2 0h2m2 0h94m4 0h10m-132 2h2m4 0h2m4 0h106m2 0h4m2 0h2m4 0h2m12 0h2m-140 2h2m10 0h4m2 0h82m2 0h8m4 0h2m2 0h6m2 0h2m10 0h2m-132 2h8m2 0h8m2 0h70m2 0h10m2 0h2m4 0h6m2 0h2m10 0h2m-136 2h2m2 0h2m2 0h2m2 0h2m2 0h2m2 0h96m4 0h2m10 0h2m12 0h2m6 0h2m-154 2h4m2 0h2m2 0h84m2 0h2m2 0h6m2 0h4m2 0h2m2 0h2m4 0h2m-126 2h14m2 0h74m2 0h6m2 0h6m2 0h6m2 0h2m4 0h2m6 0h2m8 0h2m2 0h2m-152 2h2m4 0h2m2 0h4m2 0h2m2 0h76m2 0h14m2 0h6m4 0h2m4 0h2m-138 2h2m8 0h2m4 0h4m2 0h80m2 0h2m2 0h4m2 0h8m2 0h4m2 0h4m8 0h2m8 0h2m10 0h2m-164 2h4m4 0h2m4 0h8m8 0h82m2 0h12m20 0h2m-146 2h4m8 0h2m2 0h4m2 0h106m-120 2h4m2 0h2m4 0h4m2 0h74m4 0h18m2 0h2m10 0h2m2 0h2m-150 2h2m18 0h84m2 0h2m2 0h4m2 0h6m2 0h8m-124 2h2m6 0h4m2 0h2m2 0h8m2 0h78m2 0h16m2 0h2m6 0h2m-136 2h2m6 0h8m4 0h10m2 0h68m2 0h14m2 0h2m2 0h4m2 0h2m12 0h2m6 0h2m-168 2h2m6 0h2m10 0h4m8 0h2m2 0h88m2 0h2m2 0h4m2 0h6m14 0h2m-132 2h10m4 0h2m2 0h68m2 0h6m2 0h2m2 0h8m2 0h2m4 0h2m2 0h4m-122 2h10m4 0h100m6 0h2m16 0h2m-180 2h2m32 0h2m2 0h2m4 0h6m2 0h2m4 0h72m2 0h4m2 0h4m2 0h14m6 0h2m6 0h2m-150 2h2m14 0h4m2 0h84m6 0h4m2 0h10m6 0h2m6 0h2m-136 2h2m8 0h108m2 0h2m4 0h2m18 0h2m-160 2h2m6 0h2m6 0h18m2 0h76m4 0h14m2 0h6m18 0h2m-140 2h4m4 0h76m2 0h6m2 0h6m4 0h4m2 0h2m2 0h2m2 0h2m8 0h2m2 0h2m-142 2h2m6 0h2m2 0h82m2 0h4m2 0h4m4 0h8m2 0h6m-112 2h20m4 0h54m2 0h2m2 0h6m6 0h4m2 0h10m6 0h2m20 0h2m-144 2h4m6 0h2m2 0h68m2 0h14m2 0h12m18 0h2m-148 2h4m10 0h2m2 0h2m2 0h74m6 0h16m2 0h10m6 0h4m4 0h2m6 0h2m56 0h2m-204 2h2m2 0h2m2 0h18m2 0h70m6 0h16m2 0h2m2 0h2m16 0h2m-152 2h4m8 0h2m4 0h2m2 0h14m2 0h2m2 0h62m4 0h14m4 0h2m2 0h2m18 0h2m-146 2h2m4 0h2m2 0h2m4 0h2m2 0h56m2 0h2m2 0h4m2 0h6m4 0h8m2 0h4m2 0h2m2 0h4m38 0h2m-156 2h2m8 0h4m2 0h2m2 0h4m2 0h8m2 0h24m2 0h20m2 0h4m2 0h12m2 0h12m10 0h2m2 0h2m4 0h2m4 0h2m-146 2h8m2 0h8m2 0h2m2 0h2m2 0h4m2 0h4m2 0h74m2 0h2m6 0h2m10 0h2m12 0h2m-162 2h2m10 0h2m2 0h4m2 0h8m2 0h2m8 0h4m2 0h2m2 0h8m2 0h6m2 0h6m2 0h8m2 0h10m4 0h10m2 0h14m4 0h2m8 0h4m2 0h2m-164 2h2m8 0h2m14 0h2m8 0h4m2 0h4m2 0h20m2 0h2m2 0h10m2 0h10m2 0h6m2 0h4m2 0h2m2 0h18m2 0h4m4 0h2m8 0h4m20 0h2m-176 2h2m16 0h2m2 0h4m2 0h22m4 0h18m2 0h6m2 0h24m2 0h6m2 0h16m2 0h10m4 0h2m2 0h2m-154 2h2m22 0h2m2 0h18m4 0h6m2 0h20m2 0h6m2 0h6m2 0h14m2 0h8m2 0h6m2 0h10m2 0h2m14 0h2m-138 2h2m2 0h24m2 0h2m6 0h2m2 0h8m4 0h10m4 0h4m2 0h6m2 0h28m2 0h4m2 0h6m10 0h2m-132 2h6m4 0h26m2 0h6m2 0h16m2 0h46m2 0h2m2 0h2m2 0h4m6 0h2m-138 2h2m2 0h2m2 0h4m4 0h14m2 0h18m2 0h16m4 0h2m2 0h44m4 0h4m2 0h2m2 0h2m-148 2h2m22 0h8m2 0h18m2 0h26m2 0h10m2 0h4m2 0h10m2 0h4m2 0h16m4 0h2m6 0h2m-144 2h2m4 0h2m4 0h2m2 0h2m4 0h4m2 0h8m2 0h2m4 0h4m2 0h10m2 0h8m2 0h4m2 0h2m2 0h6m2 0h26m2 0h6m4 0h4m8 0h2m8 0h2m4 0h2m-170 2h2m12 0h4m8 0h2m4 0h10m2 0h4m2 0h4m2 0h10m4 0h6m4 0h2m2 0h8m2 0h10m4 0h12m2 0h10m2 0h2m4 0h4m-138 2h2m10 0h4m4 0h2m2 0h26m2 0h18m2 0h12m4 0h4m2 0h6m2 0h2m2 0h6m2 0h26m12 0h2m-148 2h2m8 0h2m2 0h2m2 0h42m2 0h10m2 0h24m4 0h18m2 0h14m4 0h2m2 0h2m-140 2h2m6 0h8m2 0h14m2 0h14m2 0h16m2 0h16m6 0h2m2 0h26m2 0h2m2 0h2m2 0h2m4 0h2m2 0h2m2 0h2m2 0h2m-158 2h2m12 0h2m2 0h6m4 0h12m4 0h2m2 0h2m2 0h8m4 0h2m2 0h8m4 0h6m2 0h4m2 0h26m4 0h6m2 0h2m6 0h2m-140 2h2m6 0h2m4 0h4m2 0h2m6 0h14m8 0h12m2 0h12m2 0h4m2 0h2m2 0h2m2 0h4m4 0h8m2 0h10m2 0h2m2 0h6m4 0h2m12 0h4m-138 2h4m2 0h10m2 0h8m2 0h20m2 0h4m2 0h2m2 0h2m2 0h4m4 0h2m2 0h8m2 0h18m2 0h2m2 0h10m6 0h2m-128 2h2m2 0h6m4 0h4m4 0h14m4 0h2m2 0h4m2 0h2m2 0h2m6 0h4m4 0h2m4 0h2m2 0h2m2 0h6m4 0h4m4 0h2m2 0h4m2 0h4" stroke="#000" stroke-width="2" fill="none"/>
<path d="M862 1875h2m16 6h2m38 2h2m-78 6h2m2 0h2m20 2h2m-20 2h2m12 0h2m6 0h2m-52 2h2m96 0h2m-74 2h2m18 0h4m14 0h2m12 0h2m-30 2h2m-38 2h2m10 0h4m24 0h2m-36 2h4m14 0h6m42 0h2m2 0h2m-68 2h2m6 0h4m2 0h2m14 0h6m4 0h4m12 0h2m4 0h2m-82 2h2m24 0h2m26 0h2m12 0h2m14 0h2m-110 2h2m12 0h2m16 0h2m4 0h2m6 0h2m2 0h2m6 0h4m4 0h2m22 0h2m12 0h2m-104 2h2m28 0h2m4 0h2m2 0h2m8 0h2m4 0h2m12 0h2m8 0h2m14 0h2m2 0h2m-76 2h2m16 0h2m2 0h2m20 0h2m10 0h2m10 0h2m2 0h2m14 0h2m-102 2h2m10 0h2m8 0h2m10 0h2m2 0h2m4 0h2m2 0h2m2 0h2m-48 2h2m6 0h4m2 0h2m6 0h6m2 0h12m2 0h4m4 0h2m2 0h4m2 0h2m-72 2h2m12 0h2m4 0h2m2 0h8m2 0h4m4 0h2m2 0h4m2 0h2m10 0h2m4 0h2m-68 2h2m2 0h2m6 0h2m2 0h2m4 0h2m4 0h16m2 0h8m6 0h4m2 0h2m-68 2h2m2 0h2m4 0h2m6 0h8m2 0h8m4 0h14m4 0h2m4 0h2m6 0h4m4 0h2m-86 2h2m12 0h6m2 0h2m2 0h6m2 0h2m6 0h2m4 0h16m6 0h2m10 0h2m-96 2h2m22 0h2m4 0h4m2 0h2m2 0h18m2 0h2m2 0h4m2 0h2m2 0h2m2 0h4m2 0h4m2 0h2m2 0h4m8 0h2m10 0h4m-110 2h2m2 0h2m8 0h2m4 0h4m8 0h4m2 0h6m2 0h14m2 0h4m4 0h2m16 0h2m8 0h2m-126 2h2m12 0h4m4 0h2m8 0h4m4 0h8m2 0h8m2 0h4m2 0h2m2 0h2m4 0h10m4 0h10m6 0h2m16 0h2m-98 2h4m8 0h16m6 0h2m2 0h2m4 0h14m2 0h8m2 0h2m2 0h2m2 0h2m2 0h2m16 0h2m-116 2h2m12 0h2m2 0h2m2 0h6m2 0h4m2 0h8m6 0h6m2 0h8m2 0h6m2 0h6m12 0h2m2 0h2m8 0h4m-110 2h4m8 0h4m2 0h6m2 0h8m2 0h20m2 0h2m2 0h8m2 0h10m4 0h2m2 0h2m-92 2h2m12 0h2m4 0h8m2 0h14m4 0h8m4 0h8m2 0h20m4 0h2m2 0h2m8 0h4m-106 2h2m8 0h8m2 0h10m2 0h4m2 0h2m2 0h6m2 0h2m4 0h4m2 0h8m2 0h2m2 0h12m2 0h2m-82 2h4m2 0h2m4 0h2m2 0h2m2 0h2m2 0h4m4 0h14m2 0h6m2 0h6m2 0h10m2 0h6m2 0h4m-100 2h14m2 0h8m4 0h2m6 0h4m4 0h8m2 0h18m2 0h4m2 0h6m8 0h4m14 0h2m12 0h2m-136 2h2m10 0h4m4 0h2m2 0h8m2 0h2m2 0h2m2 0h6m6 0h14m4 0h4m2 0h4m2 0h8m2 0h2m2 0h2m8 0h2m-100 2h2m2 0h4m2 0h4m4 0h12m4 0h6m4 0h6m2 0h6m2 0h4m2 0h2m2 0h4m2 0h12m4 0h2m22 0h2m-126 2h2m10 0h2m2 0h18m2 0h22m2 0h6m2 0h8m2 0h18m-106 2h2m10 0h2m4 0h6m2 0h6m2 0h4m2 0h8m2 0h10m2 0h4m6 0h10m2 0h2m4 0h14m4 0h4m10 0h2m-106 2h2m10 0h26m4 0h6m2 0h6m2 0h2m2 0h14m6 0h4m12 0h2m-124 2h2m10 0h4m10 0h8m4 0h2m2 0h4m2 0h6m2 0h8m4 0h8m2 0h4m2 0h12m4 0h4m2 0h2m2 0h2m2 0h2m2 0h4m-100 2h2m2 0h6m2 0h4m10 0h18m4 0h16m2 0h12m2 0h8m2 0h10m10 0h2m-152 2h2m22 0h2m14 0h8m2 0h22m8 0h2m2 0h8m2 0h4m2 0h8m2 0h12m2 0h10m4 0h2m2 0h2m72 0h2m-182 2h2m10 0h6m2 0h6m2 0h2m2 0h18m2 0h18m2 0h4m6 0h4m2 0h2m2 0h4m4 0h2m16 0h2m4 0h2m-126 2h2m2 0h2m2 0h2m4 0h2m4 0h2m2 0h2m4 0h10m4 0h2m2 0h6m2 0h2m2 0h6m2 0h2m4 0h4m2 0h12m4 0h2m-108 2h2m20 0h4m2 0h8m4 0h6m6 0h12m2 0h4m2 0h16m2 0h4m2 0h2m2 0h2m2 0h6m-126 2h2m4 0h2m22 0h6m4 0h14m2 0h10m2 0h8m2 0h8m2 0h12m2 0h2m2 0h14m2 0h2m8 0h2m2 0h2m-116 2h2m2 0h2m4 0h18m4 0h16m4 0h42m2 0h6m2 0h4m-118 2h2m4 0h2m8 0h10m2 0h8m2 0h2m2 0h4m2 0h2m8 0h8m4 0h6m2 0h10m2 0h20m4 0h6m-116 2h2m2 0h2m2 0h2m2 0h4m2 0h6m2 0h10m2 0h26m2 0h6m6 0h6m2 0h14m2 0h6m4 0h6m6 0h2m-132 2h2m14 0h2m2 0h2m2 0h6m2 0h28m2 0h12m2 0h4m2 0h32m6 0h2m20 0h2m4 0h2m-140 2h2m4 0h2m2 0h2m2 0h26m2 0h10m2 0h6m2 0h4m2 0h2m2 0h2m8 0h6m2 0h2m2 0h8m2 0h2m2 0h2m2 0h2m16 0h2m-144 2h2m8 0h2m10 0h2m2 0h22m2 0h2m2 0h4m2 0h12m2 0h4m2 0h2m2 0h10m2 0h2m2 0h2m2 0h4m8 0h2m-114 2h2m6 0h4m4 0h2m2 0h2m2 0h4m2 0h2m2 0h2m2 0h6m6 0h4m4 0h6m6 0h8m2 0h2m2 0h2m2 0h6m2 0h6m2 0h2m2 0h4m2 0h2m6 0h2m14 0h2m-142 2h2m12 0h12m4 0h28m2 0h8m4 0h6m2 0h6m2 0h2m6 0h2m2 0h2m12 0h2m2 0h4m6 0h4m28 0h2m-150 2h14m2 0h4m2 0h10m2 0h6m2 0h14m4 0h16m2 0h18m2 0h4m2 0h2m2 0h4m8 0h2m-126 2h2m8 0h2m2 0h10m2 0h2m2 0h2m2 0h2m4 0h4m2 0h24m2 0h8m2 0h14m2 0h4m2 0h8m2 0h2m12 0h2m-126 2h2m2 0h10m2 0h12m2 0h2m4 0h4m2 0h32m2 0h6m2 0h4m2 0h2m2 0h4m2 0h2m2 0h8m-124 2h2m14 0h2m6 0h2m6 0h64m2 0h2m2 0h4m10 0h2m16 0h2m-122 2h4m2 0h2m2 0h2m2 0h10m4 0h4m4 0h46m6 0h12m4 0h6m2 0h2m-118 2h2m6 0h10m2 0h2m2 0h10m2 0h50m2 0h14m6 0h2m16 0h2m-138 2h2m20 0h6m2 0h2m2 0h64m2 0h12m2 0h6m8 0h2m-122 2h4m2 0h2m4 0h12m6 0h64m4 0h2m2 0h4m2 0h4m-104 2h2m2 0h8m4 0h72m2 0h4m2 0h2m2 0h6m2 0h4m-128 2h2m8 0h6m2 0h2m6 0h74m2 0h2m6 0h10m2 0h2m-134 2h4m20 0h2m2 0h6m2 0h6m2 0h6m2 0h56m2 0h4m2 0h4m2 0h2m2 0h2m2 0h4m14 0h2m-134 2h2m6 0h2m8 0h4m4 0h60m2 0h4m2 0h2m2 0h12m2 0h4m4 0h4m-114 2h2m6 0h2m4 0h62m2 0h22m4 0h2m6 0h2m-122 2h2m8 0h4m2 0h4m4 0h72m2 0h14m6 0h2m-132 2h2m24 0h14m2 0h66m2 0h14m4 0h2m44 0h2m-172 2h2m16 0h2m2 0h78m2 0h4m2 0h12m4 0h2m6 0h2m8 0h2m-136 2h2m6 0h2m4 0h4m4 0h78m2 0h8m2 0h2m6 0h2m-124 2h2m2 0h2m8 0h10m2 0h6m2 0h66m2 0h2m2 0h2m2 0h4m2 0h2m6 0h2m-134 2h2m8 0h2m8 0h96m6 0h6m24 0h2m-144 2h2m4 0h6m8 0h78m2 0h2m2 0h2m2 0h6m4 0h4m4 0h2m-136 2h2m8 0h4m2 0h10m2 0h78m4 0h8m4 0h4m22 0h4m-136 2h2m6 0h96m6 0h2m12 0h4m-144 2h2m16 0h2m6 0h6m2 0h78m2 0h8m4 0h4m14 0h2m-148 2h2m8 0h2m4 0h2m4 0h2m2 0h74m2 0h6m4 0h6m4 0h4m-122 2h2m2 0h4m4 0h2m2 0h10m2 0h92m2 0h2m-124 2h4m6 0h2m4 0h6m4 0h94m2 0h2m-150 2h2m32 0h2m4 0h4m2 0h6m4 0h78m2 0h4m4 0h2m8 0h2m8 0h2m-130 2h8m2 0h2m4 0h76m2 0h6m2 0h10m22 0h2m-146 2h2m6 0h2m2 0h2m4 0h12m2 0h78m4 0h2m2 0h2m4 0h4m-126 2h2m4 0h2m2 0h4m10 0h8m2 0h74m2 0h2m2 0h2m14 0h2m12 0h2m-146 2h2m8 0h4m2 0h2m2 0h2m4 0h78m2 0h12m2 0h4m-118 2h10m2 0h84m4 0h4m2 0h4m2 0h2m4 0h2m8 0h2m8 0h2m-150 2h2m8 0h4m2 0h4m2 0h4m2 0h78m2 0h2m2 0h6m2 0h10m-128 2h2m6 0h2m2 0h2m2 0h92m2 0h10m2 0h2m20 0h2m-150 2h4m8 0h4m4 0h2m2 0h84m2 0h2m2 0h14m2 0h2m10 0h2m4 0h2m-134 2h94m2 0h10m2 0h4m6 0h4m8 0h2m8 0h2m-154 2h2m6 0h2m2 0h4m2 0h4m2 0h4m2 0h4m2 0h74m4 0h4m2 0h2m2 0h2m16 0h2m-132 2h2m2 0h2m2 0h6m2 0h2m2 0h88m16 0h2m2 0h4m-144 2h2m6 0h4m8 0h86m2 0h10m2 0h2m2 0h6m14 0h2m-128 2h2m4 0h86m2 0h2m4 0h4m2 0h2m6 0h2m-146 2h2m6 0h2m12 0h2m8 0h6m2 0h88m2 0h2m2 0h2m2 0h4m4 0h2m10 0h2m-162 2h2m12 0h2m4 0h4m4 0h10m4 0h78m4 0h4m2 0h6m2 0h2m24 0h2m-168 2h2m24 0h8m2 0h2m2 0h84m2 0h4m4 0h4m4 0h6m4 0h2m8 0h2m-140 2h2m2 0h6m2 0h2m4 0h6m2 0h68m2 0h4m4 0h8m4 0h2m2 0h4m4 0h2m12 0h2m-138 2h4m2 0h4m2 0h10m2 0h64m2 0h2m4 0h4m2 0h4m4 0h2m10 0h4m10 0h2m-140 2h8m2 0h2m2 0h78m2 0h6m2 0h4m2 0h4m4 0h2m4 0h2m-134 2h2m14 0h2m4 0h2m2 0h78m2 0h12m8 0h4m10 0h2m-140 2h4m8 0h2m4 0h6m2 0h70m2 0h6m4 0h14m-124 2h2m10 0h2m2 0h2m2 0h98m8 0h2m4 0h2m-140 2h2m8 0h2m2 0h4m4 0h4m2 0h86m2 0h2m2 0h2m2 0h2m2 0h4m4 0h2m-126 2h20m2 0h80m2 0h2m4 0h2m4 0h4m-130 2h2m12 0h6m4 0h88m2 0h2m2 0h6m2 0h2m30 0h2m-156 2h2m8 0h2m2 0h2m2 0h4m2 0h2m2 0h2m2 0h68m6 0h2m4 0h2m2 0h2m2 0h2m2 0h2m4 0h2m2 0h4m-132 2h2m12 0h92m12 0h2m4 0h2m2 0h2m-138 2h2m6 0h4m4 0h4m2 0h2m2 0h74m2 0h4m2 0h14m4 0h2m4 0h2m30 0h2m-160 2h2m6 0h6m2 0h4m2 0h78m2 0h8m2 0h10m6 0h2m20 0h2m-184 2h2m24 0h2m4 0h2m8 0h108m2 0h2m2 0h2m2 0h4m-124 2h6m2 0h10m2 0h62m2 0h4m2 0h6m2 0h6m2 0h2m2 0h6m-132 2h2m8 0h4m2 0h2m8 0h2m6 0h68m2 0h2m2 0h10m4 0h8m4 0h2m14 0h4m-144 2h2m10 0h6m2 0h2m2 0h66m2 0h14m6 0h2m2 0h2m10 0h4m6 0h2m-134 2h92m2 0h4m4 0h2m2 0h6m-140 2h2m22 0h2m6 0h2m6 0h74m2 0h4m2 0h2m4 0h2m2 0h6m2 0h2m16 0h2m18 0h2m-164 2h2m4 0h2m10 0h2m4 0h2m2 0h2m2 0h68m4 0h2m2 0h8m2 0h2m2 0h2m4 0h2m10 0h2m60 0h2m-200 2h2m8 0h4m4 0h4m4 0h74m2 0h12m2 0h4m4 0h2m6 0h6m8 0h2m-154 2h2m6 0h4m2 0h4m2 0h2m2 0h80m2 0h2m4 0h4m4 0h2m2 0h6m4 0h2m4 0h2m-132 2h2m4 0h6m2 0h2m2 0h80m2 0h6m2 0h8m22 0h2m-138 2h2m4 0h82m4 0h12m2 0h2m2 0h10m18 0h2m-142 2h2m2 0h2m6 0h6m2 0h76m2 0h2m4 0h6m2 0h6m-144 2h2m16 0h2m8 0h12m4 0h4m2 0h88m2 0h4m4 0h2m12 0h2m-134 2h2m6 0h86m2 0h2m2 0h6m4 0h2m12 0h2m-136 2h4m2 0h2m4 0h2m2 0h2m2 0h8m2 0h72m4 0h4m4 0h10m6 0h4m-138 2h2m12 0h88m2 0h10m4 0h2m4 0h4m6 0h2m4 0h2m-130 2h2m4 0h6m2 0h2m2 0h76m4 0h10m2 0h2m6 0h2m10 0h2m6 0h2m-134 2h2m4 0h4m4 0h4m2 0h60m2 0h10m2 0h2m2 0h2m4 0h2m2 0h4m4 0h2m14 0h4m-140 2h96m2 0h4m2 0h4m2 0h2m6 0h2m-120 2h4m2 0h8m2 0h70m2 0h2m2 0h4m2 0h12m2 0h2m12 0h2m-148 2h2m2 0h2m6 0h4m6 0h4m4 0h16m2 0h64m4 0h2m2 0h6m2 0h2m2 0h8m2 0h2m-116 2h90m2 0h2m2 0h2m2 0h6m6 0h2m-124 2h4m2 0h2m2 0h92m8 0h10m-122 2h2m2 0h6m4 0h2m2 0h4m2 0h64m2 0h2m2 0h8m4 0h4m2 0h2m2 0h2m28 0h4m-152 2h2m8 0h6m4 0h2m2 0h4m2 0h66m4 0h6m2 0h14m2 0h2m2 0h2m-134 2h2m2 0h2m6 0h14m2 0h2m2 0h4m2 0h62m2 0h2m4 0h4m2 0h4m2 0h2m2 0h2m4 0h2m12 0h2m-148 2h2m4 0h2m8 0h6m2 0h14m2 0h56m2 0h18m6 0h2m6 0h4m10 0h2m-144 2h2m8 0h2m2 0h6m2 0h2m2 0h2m2 0h50m2 0h16m4 0h2m4 0h6m4 0h10m26 0h2m-172 2h2m16 0h2m2 0h2m4 0h20m2 0h2m2 0h2m4 0h50m2 0h2m6 0h6m2 0h6m2 0h2m2 0h4m4 0h2m8 0h2m-166 2h2m36 0h6m2 0h6m2 0h2m4 0h2m2 0h50m2 0h6m4 0h2m4 0h10m8 0h2m6 0h2m-138 2h2m6 0h4m2 0h8m2 0h12m2 0h2m2 0h54m2 0h6m2 0h8m2 0h14m6 0h2m-148 2h2m4 0h2m12 0h2m4 0h6m4 0h10m2 0h42m2 0h14m4 0h2m4 0h2m4 0h8m2 0h2m4 0h4m8 0h6m6 0h2m8 0h2m-166 2h2m12 0h2m2 0h12m4 0h4m2 0h6m2 0h6m2 0h6m2 0h8m2 0h6m2 0h16m2 0h6m2 0h2m4 0h6m4 0h8m2 0h2m2 0h2m6 0h2m14 0h2m-166 2h2m2 0h2m12 0h2m2 0h2m10 0h4m2 0h2m2 0h6m6 0h8m2 0h4m2 0h4m2 0h10m2 0h4m12 0h20m2 0h12m-158 2h2m30 0h2m6 0h22m2 0h4m4 0h4m2 0h2m4 0h6m2 0h12m2 0h4m2 0h20m2 0h2m2 0h14m2 0h2m6 0h2m-146 2h2m2 0h2m14 0h14m2 0h8m6 0h4m2 0h2m2 0h6m2 0h2m4 0h2m2 0h6m2 0h26m2 0h10m6 0h2m2 0h2m4 0h2m4 0h2m-144 2h2m14 0h4m2 0h4m4 0h20m2 0h6m8 0h2m2 0h2m2 0h14m2 0h22m4 0h18m6 0h2m-164 2h2m32 0h2m2 0h6m6 0h4m2 0h8m2 0h4m2 0h4m2 0h6m2 0h2m4 0h12m2 0h14m6 0h20m2 0h2m2 0h2m2 0h2m4 0h2m-152 2h2m20 0h8m2 0h10m2 0h4m4 0h38m4 0h20m4 0h6m4 0h18m-144 2h6m16 0h2m4 0h6m4 0h14m2 0h26m4 0h2m2 0h12m2 0h4m4 0h12m2 0h6m2 0h4m4 0h4m2 0h4m14 0h2m-166 2h2m24 0h2m2 0h4m2 0h6m2 0h2m2 0h4m4 0h2m2 0h6m2 0h6m2 0h2m2 0h6m2 0h2m2 0h4m2 0h4m2 0h20m2 0h4m2 0h12m2 0h2m2 0h2m2 0h2m4 0h2m-140 2h10m6 0h10m2 0h22m2 0h6m2 0h2m2 0h46m2 0h2m6 0h2m2 0h4m-140 2h2m8 0h2m4 0h14m2 0h10m2 0h2m2 0h4m4 0h6m2 0h4m2 0h4m2 0h6m4 0h6m2 0h24m2 0h14m10 0h2m-136 2h2m4 0h2m2 0h2m2 0h10m2 0h8m2 0h6m2 0h2m2 0h12m4 0h8m2 0h6m4 0h16m2 0h2m2 0h10m2 0h4m-120 2h4m6 0h6m2 0h2m2 0h2m2 0h2m2 0h2m2 0h4m2 0h12m4 0h4m2 0h2m2 0h8m2 0h6m2 0h2m2 0h4m2 0h6m2 0h4m2 0h2m2 0h6m4 0h2m16 0h2m-140 2h2m14 0h6m2 0h10m6 0h2m8 0h10m2 0h2m2 0h2m2 0h2m2 0h2m2 0h4m2 0h4m4 0h2m8 0h2m10 0h2m4 0h2m12 0h2" stroke="#000" stroke-width="2" fill="none"/>
<rect x="152.2" y="1720.8" width="473" height="472" fill="none" stroke="#000" stroke-width="2.2"/>
<path d="M231.4 2192.8v12.5M311 2192.8v12.5M371.9 2192.8v12.5M464.4 2192.8v12.5M543.6 2192.8v12.5M622.9 2192.8v12.5M160.2 2192.8v6.5M168.2 2192.8v6.5M177.2 2192.8v6.5M188.2 2192.8v6.5M204.2 2192.8v6.5M238.2 2192.8v6.5M245.2 2192.8v6.5M252.2 2192.8v6.5M260.2 2192.8v6.5M270.2 2192.8v6.5M282.2 2192.8v6.5M292.2 2192.8v6.5M322.2 2192.8v6.5M332.2 2192.8v6.5M340.2 2192.8v6.5M348.2 2192.8v6.5M355.2 2192.8v6.5M362.2 2192.8v6.5M367.2 2192.8v6.5M399.75 2192.8v6.5M416.03 2192.8v6.5M427.59 2192.8v6.5M436.55 2192.8v6.5M443.88 2192.8v6.5M450.07 2192.8v6.5M455.44 2192.8v6.5M460.17 2192.8v6.5M488.24 2192.8v6.5M502.19 2192.8v6.5M512.08 2192.8v6.5M519.76 2192.8v6.5M526.03 2192.8v6.5M531.33 2192.8v6.5M535.92 2192.8v6.5M539.98 2192.8v6.5M567.47 2192.8v6.5M581.44 2192.8v6.5M591.34 2192.8v6.5M599.03 2192.8v6.5M605.31 2192.8v6.5M610.62 2192.8v6.5M615.22 2192.8v6.5M619.27 2192.8v6.5M294.2 2192.8v12.5M296.09 2192.8v8M297.98 2192.8v10M299.87 2192.8v6.5M301.76 2192.8v12.5M303.64 2192.8v9M305.53 2192.8v11M307.42 2192.8v12.5M309.31 2192.8v10M311.2 2192.8v12.5" stroke="#000" stroke-width="2" fill="none"/>
<path d="M152.2 1815.2h-12.5M152.2 1909.5h-12.5M152.2 2007.3h-12.5M152.2 2074.6h-12.5M152.2 2138.3h-12.5M152.2 1723.5h-6.5M152.2 1729.3h-6.5M152.2 1732.8h-6.5M152.2 1737.4h-6.5M152.2 1742h-6.5M152.2 1747.8h-6.5M152.2 1757.1h-6.5M152.2 1769.8h-6.5M152.2 1787.2h-6.5M152.2 1881.11h-6.5M152.2 1864.51h-6.5M152.2 1852.73h-6.5M152.2 1843.59h-6.5M152.2 1836.12h-6.5M152.2 1829.81h-6.5M152.2 1824.34h-6.5M152.2 1819.51h-6.5M152.2 1977.86h-6.5M152.2 1960.64h-6.5M152.2 1948.42h-6.5M152.2 1938.94h-6.5M152.2 1931.2h-6.5M152.2 1924.65h-6.5M152.2 1918.98h-6.5M152.2 1913.98h-6.5M152.2 2010.7h-6.5M152.2 2015.3h-6.5M152.2 2021.1h-6.5M152.2 2029.1h-6.5M152.2 2038.4h-6.5M152.2 2048.9h-6.5M152.2 2061.5h-6.5M152.2 2091h-6.5M152.2 2100.3h-6.5M152.2 2109.5h-6.5M152.2 2118.8h-6.5M152.2 2128.1h-6.5M152.2 2132.7h-6.5M152.2 2160.1h-6.5M152.2 2183.3h-6.5M152.2 2066.8h-12.5M152.2 2068.68h-8M152.2 2070.55h-11M152.2 2072.43h-7M152.2 2074.3h-12.5M152.2 2076.18h-9M152.2 2078.05h-10M152.2 2079.93h-12.5M152.2 2081.8h-11" stroke="#000" stroke-width="2" fill="none"/>
<text transform="translate(304.28 2234.14) scale(1.1695 1)" font-size="15.4" fill="#000">0</text>
<text x="461.75" y="2234.4" font-size="15.4" fill="#000">10</text><text x="482.22" y="2223.1" font-size="15.4" fill="#000">4</text>
<text x="540.74" y="2234.4" font-size="15.4" fill="#000">10</text><text x="560.95" y="2223.1" font-size="15.4" fill="#000">5</text>
<text x="590.95" y="2234.4" font-size="15.4" fill="#000">10</text><text x="610.99" y="2223.1" font-size="15.4" fill="#000">6</text>
<text x="98.48" y="1825.4" font-size="15.4" fill="#000">10</text><text x="120.45" y="1814.5" font-size="15.4" fill="#000">4</text>
<text x="98.48" y="1919.7" font-size="15.4" fill="#000">10</text><text x="120.22" y="1908.8" font-size="15.4" fill="#000">3</text>
<text x="98.48" y="2017.5" font-size="15.4" fill="#000">10</text><text x="120.03" y="2006.6" font-size="15.4" fill="#000">2</text>
<text transform="translate(108 2079.74) scale(1.1287 1)" font-size="15.4" fill="#000">0</text>
<text x="89.02" y="2148.5" font-size="15.4" fill="#000">-10</text><text x="119.43" y="2137.6" font-size="15.4" fill="#000">2</text>
<rect x="716.3" y="1720.5" width="473" height="472" fill="none" stroke="#000" stroke-width="2.2"/>
<path d="M795.5 2192.5v12.5M875.1 2192.5v12.5M936 2192.5v12.5M1028.5 2192.5v12.5M1107.7 2192.5v12.5M1187 2192.5v12.5M724.3 2192.5v6.5M732.3 2192.5v6.5M741.3 2192.5v6.5M752.3 2192.5v6.5M768.3 2192.5v6.5M802.3 2192.5v6.5M809.3 2192.5v6.5M816.3 2192.5v6.5M824.3 2192.5v6.5M834.3 2192.5v6.5M846.3 2192.5v6.5M856.3 2192.5v6.5M886.3 2192.5v6.5M896.3 2192.5v6.5M904.3 2192.5v6.5M912.3 2192.5v6.5M919.3 2192.5v6.5M926.3 2192.5v6.5M931.3 2192.5v6.5M963.85 2192.5v6.5M980.13 2192.5v6.5M991.69 2192.5v6.5M1000.65 2192.5v6.5M1007.98 2192.5v6.5M1014.17 2192.5v6.5M1019.54 2192.5v6.5M1024.27 2192.5v6.5M1052.34 2192.5v6.5M1066.29 2192.5v6.5M1076.18 2192.5v6.5M1083.86 2192.5v6.5M1090.13 2192.5v6.5M1095.43 2192.5v6.5M1100.02 2192.5v6.5M1104.08 2192.5v6.5M1131.57 2192.5v6.5M1145.54 2192.5v6.5M1155.44 2192.5v6.5M1163.13 2192.5v6.5M1169.41 2192.5v6.5M1174.72 2192.5v6.5M1179.32 2192.5v6.5M1183.37 2192.5v6.5M858.3 2192.5v12.5M860.19 2192.5v8M862.08 2192.5v10M863.97 2192.5v6.5M865.86 2192.5v12.5M867.74 2192.5v9M869.63 2192.5v11M871.52 2192.5v12.5M873.41 2192.5v10M875.3 2192.5v12.5" stroke="#000" stroke-width="2" fill="none"/>
<path d="M716.3 1814.9h-12.5M716.3 1909.2h-12.5M716.3 2007h-12.5M716.3 2074.3h-12.5M716.3 2138h-12.5M716.3 1723.2h-6.5M716.3 1729h-6.5M716.3 1732.5h-6.5M716.3 1737.1h-6.5M716.3 1741.7h-6.5M716.3 1747.5h-6.5M716.3 1756.8h-6.5M716.3 1769.5h-6.5M716.3 1786.9h-6.5M716.3 1880.81h-6.5M716.3 1864.21h-6.5M716.3 1852.43h-6.5M716.3 1843.29h-6.5M716.3 1835.82h-6.5M716.3 1829.51h-6.5M716.3 1824.04h-6.5M716.3 1819.21h-6.5M716.3 1977.56h-6.5M716.3 1960.34h-6.5M716.3 1948.12h-6.5M716.3 1938.64h-6.5M716.3 1930.9h-6.5M716.3 1924.35h-6.5M716.3 1918.68h-6.5M716.3 1913.68h-6.5M716.3 2010.4h-6.5M716.3 2015h-6.5M716.3 2020.8h-6.5M716.3 2028.8h-6.5M716.3 2038.1h-6.5M716.3 2048.6h-6.5M716.3 2061.2h-6.5M716.3 2090.7h-6.5M716.3 2100h-6.5M716.3 2109.2h-6.5M716.3 2118.5h-6.5M716.3 2127.8h-6.5M716.3 2132.4h-6.5M716.3 2159.8h-6.5M716.3 2183h-6.5M716.3 2066.5h-12.5M716.3 2068.38h-8M716.3 2070.25h-11M716.3 2072.12h-7M716.3 2074h-12.5M716.3 2075.88h-9M716.3 2077.75h-10M716.3 2079.62h-12.5M716.3 2081.5h-11" stroke="#000" stroke-width="2" fill="none"/>
<text x="801.81" y="2230.1" font-size="15.4" fill="#000">-10</text><text x="830.81" y="2218.5" font-size="15.4" fill="#000">3</text>
<text transform="translate(868.38 2233.84) scale(1.1695 1)" font-size="15.4" fill="#000">0</text>
<text x="1025.85" y="2234.1" font-size="15.4" fill="#000">10</text><text x="1046.31" y="2222.8" font-size="15.4" fill="#000">4</text>
<text x="1104.84" y="2234.1" font-size="15.4" fill="#000">10</text><text x="1125.05" y="2222.8" font-size="15.4" fill="#000">5</text>
<text x="1155.05" y="2234.1" font-size="15.4" fill="#000">10</text><text x="1175.09" y="2222.8" font-size="15.4" fill="#000">6</text>
<text x="662.58" y="1825.1" font-size="15.4" fill="#000">10</text><text x="684.55" y="1814.2" font-size="15.4" fill="#000">4</text>
<text x="662.58" y="1919.4" font-size="15.4" fill="#000">10</text><text x="684.32" y="1908.5" font-size="15.4" fill="#000">3</text>
<text x="662.58" y="2017.2" font-size="15.4" fill="#000">10</text><text x="684.13" y="2006.3" font-size="15.4" fill="#000">2</text>
<text transform="translate(672.1 2079.44) scale(1.1287 1)" font-size="15.4" fill="#000">0</text>
<text x="653.12" y="2148.2" font-size="15.4" fill="#000">-10</text><text x="683.53" y="2137.3" font-size="15.4" fill="#000">2</text>
<polygon points="308,1826.4 432.2,1826.4 433.9,1971.3 352.2,1971.3 308,1942.4" fill="none" stroke="#000" stroke-width="2.2"/>
<polygon points="868.2,1825.8 984.9,1825.8 987.1,1971.6 909.4,1971.6 868.2,1943.7" fill="none" stroke="#000" stroke-width="2.2"/>
<g transform="translate(443.07 1903.84) scale(1.0110 1)" font-size="46.08" fill="#000"><clipPath id="nf4"><path d="M-9.22 -46.08H36.86V13.82H-9.22Z M2.3 -5.07H11.27V2.76H2.3Z M15.92 -5.07H24.42V2.76H15.92Z" clip-rule="evenodd"/></clipPath><text x="0" clip-path="url(#nf4)">1</text><text x="25.63">.66</text></g>
<text transform="translate(1006.71 1913.15) scale(1.0521 1)" font-size="44.81" fill="#000">0.56</text>
<g transform="translate(82.7 2168.35) rotate(-90) scale(0.9492 1)" font-size="52.95" fill="#231f20"><text x="0">PD</text><clipPath id="nf5"><path d="M62.96 -52.95H115.91V15.88H62.96Z M76.2 -5.82H86.54V3.18H76.2Z M91.8 -5.82H101.61V3.18H91.8Z" clip-rule="evenodd"/></clipPath><text x="73.55" clip-path="url(#nf5)">1</text></g>
<text transform="translate(143.36 2285.15) scale(0.9663 1)" font-size="54.7" fill="#231f20">CXCR5</text>
<path d="M65.7 2041.3 L69.4 1695" stroke="#231f20" stroke-width="2.2" fill="none"/>
<path d="M69.6 1685.5 L58.8 1704 L69.6 1699 L80.4 1704Z" fill="#231f20"/>
<path d="M341.5 2262 L1182 2261.3" stroke="#231f20" stroke-width="2.2" fill="none"/>
<path d="M1191 2261.3 L1171.5 2251 L1176.5 2261.3 L1171.5 2271.6Z" fill="#231f20"/>
</svg>
</body></html>
